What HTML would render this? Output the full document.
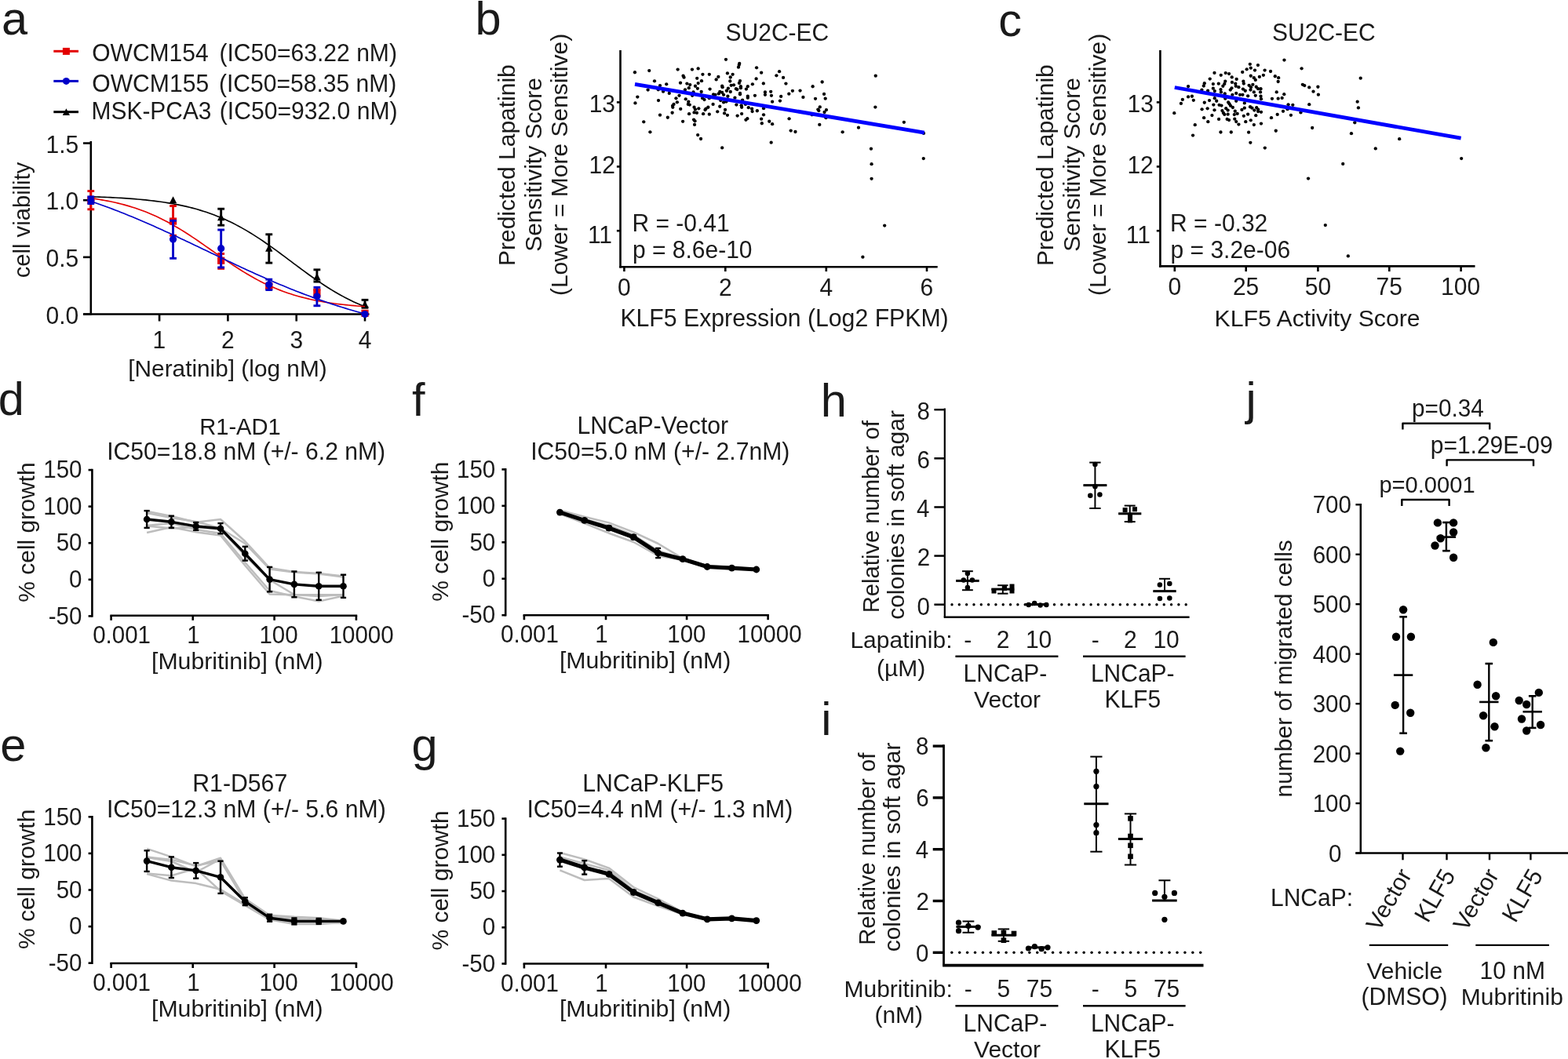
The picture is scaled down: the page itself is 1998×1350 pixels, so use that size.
<!DOCTYPE html>
<html><head><meta charset="utf-8"><title>Figure</title>
<style>html,body{margin:0;padding:0;background:#fff;}svg{display:block;}
text{font-family:'Liberation Sans', Arial, Helvetica, sans-serif;}</style></head>
<body><svg width="1998" height="1350" viewBox="0 0 1998 1350">
<rect width="1998" height="1350" fill="#fff"/>
<text transform="translate(2.12 43.50) scale(1 0.985)" font-size="59.50" fill="#1a1a1a">a</text>
<text transform="translate(605.43 43.50) scale(1 0.985)" font-size="59.50" fill="#1a1a1a">b</text>
<text transform="translate(1272.32 46.40) scale(1 0.985)" font-size="59.50" fill="#1a1a1a">c</text>
<text transform="translate(-2.26 529.20) scale(1 0.985)" font-size="59.50" fill="#1a1a1a">d</text>
<text transform="translate(0.22 970.00) scale(1 0.985)" font-size="59.50" fill="#1a1a1a">e</text>
<text transform="translate(524.91 529.70) scale(1 0.985)" font-size="59.50" fill="#1a1a1a">f</text>
<text transform="translate(524.62 969.50) scale(1 0.985)" font-size="59.50" fill="#1a1a1a">g</text>
<text transform="translate(1045.63 530.50) scale(1 0.985)" font-size="59.50" fill="#1a1a1a">h</text>
<text transform="translate(1046.13 936.70) scale(1 0.985)" font-size="59.50" fill="#1a1a1a">i</text>
<text transform="translate(1587.49 529.00) scale(1 0.985)" font-size="59.50" fill="#1a1a1a">j</text>
<line x1="68.30" y1="65.30" x2="100.00" y2="65.30" stroke="#e30000" stroke-width="3.00"/>
<text transform="translate(117.25 78.40) scale(1 1.040)" font-size="30.02" fill="#1a1a1a">OWCM154</text>
<text transform="translate(279.39 78.40) scale(1 1.034)" font-size="30.09" fill="#1a1a1a">(IC50=63.22 nM)</text>
<line x1="68.30" y1="103.40" x2="100.00" y2="103.40" stroke="#0000c8" stroke-width="3.00"/>
<text transform="translate(117.24 116.50) scale(1 1.040)" font-size="30.12" fill="#1a1a1a">OWCM155</text>
<text transform="translate(278.90 116.50) scale(1 1.034)" font-size="30.07" fill="#1a1a1a">(IC50=58.35 nM)</text>
<line x1="68.30" y1="142.70" x2="100.00" y2="142.70" stroke="#000" stroke-width="3.00"/>
<text transform="translate(116.61 152.10) scale(1 1.040)" font-size="29.91" fill="#1a1a1a">MSK-PCA3</text>
<text transform="translate(279.79 152.10) scale(1 1.034)" font-size="30.13" fill="#1a1a1a">(IC50=932.0 nM)</text>
<rect x="79.90" y="60.90" width="9.00" height="9.00" fill="#e30000"/>
<circle cx="84.40" cy="103.40" r="4.50" fill="#0000c8"/>
<polygon points="84.40,138.37 79.80,147.11 89.00,147.11" fill="#000"/>
<line x1="115.80" y1="180.00" x2="115.80" y2="401.70" stroke="#000" stroke-width="2.60"/>
<line x1="106.00" y1="400.50" x2="470.50" y2="400.50" stroke="#000" stroke-width="2.60"/>
<line x1="106.00" y1="182.55" x2="115.80" y2="182.55" stroke="#000" stroke-width="2.60"/>
<text transform="translate(58.50 195.05) scale(1 1.040)" font-size="30.00" fill="#1a1a1a">1.5</text>
<line x1="106.00" y1="255.20" x2="115.80" y2="255.20" stroke="#000" stroke-width="2.60"/>
<text transform="translate(58.50 267.30) scale(1 1.040)" font-size="30.00" fill="#1a1a1a">1.0</text>
<line x1="106.00" y1="327.85" x2="115.80" y2="327.85" stroke="#000" stroke-width="2.60"/>
<text transform="translate(58.50 339.95) scale(1 1.040)" font-size="30.00" fill="#1a1a1a">0.5</text>
<line x1="106.00" y1="400.50" x2="115.80" y2="400.50" stroke="#000" stroke-width="2.60"/>
<text transform="translate(58.50 412.60) scale(1 1.040)" font-size="30.00" fill="#1a1a1a">0.0</text>
<line x1="203.10" y1="400.50" x2="203.10" y2="409.50" stroke="#000" stroke-width="2.60"/>
<text transform="translate(194.40 443.50) scale(1 1.040)" font-size="30.00" fill="#1a1a1a">1</text>
<line x1="290.40" y1="400.50" x2="290.40" y2="409.50" stroke="#000" stroke-width="2.60"/>
<text transform="translate(282.07 443.50) scale(1 1.040)" font-size="30.00" fill="#1a1a1a">2</text>
<line x1="377.70" y1="400.50" x2="377.70" y2="409.50" stroke="#000" stroke-width="2.60"/>
<text transform="translate(369.45 443.50) scale(1 1.040)" font-size="30.00" fill="#1a1a1a">3</text>
<line x1="465.00" y1="400.50" x2="465.00" y2="409.50" stroke="#000" stroke-width="2.60"/>
<text transform="translate(456.75 443.50) scale(1 1.040)" font-size="30.00" fill="#1a1a1a">4</text>
<text transform="translate(163.31 479.50) scale(1 0.993)" font-size="29.81" fill="#1a1a1a">[Neratinib] (log nM)</text>
<text transform="translate(37.50 354.31) rotate(-90) scale(1 0.985)" font-size="29.20" fill="#1a1a1a">cell viability</text>
<polyline points="115.80,250.72 119.29,250.83 122.78,250.95 126.28,251.08 129.77,251.21 133.26,251.36 136.75,251.51 140.24,251.67 143.74,251.84 147.23,252.03 150.72,252.22 154.21,252.42 157.70,252.64 161.20,252.87 164.69,253.12 168.18,253.38 171.67,253.66 175.16,253.95 178.66,254.26 182.15,254.59 185.64,254.94 189.13,255.31 192.62,255.70 196.12,256.12 199.61,256.56 203.10,257.03 206.59,257.52 210.08,258.04 213.58,258.59 217.07,259.17 220.56,259.79 224.05,260.44 227.54,261.12 231.04,261.84 234.53,262.60 238.02,263.41 241.51,264.25 245.00,265.14 248.50,266.07 251.99,267.06 255.48,268.09 258.97,269.17 262.46,270.30 265.96,271.49 269.45,272.74 272.94,274.04 276.43,275.40 279.92,276.81 283.42,278.29 286.91,279.83 290.40,281.44 293.89,283.10 297.38,284.83 300.88,286.62 304.37,288.47 307.86,290.38 311.35,292.36 314.84,294.40 318.34,296.49 321.83,298.65 325.32,300.85 328.81,303.12 332.30,305.43 335.80,307.79 339.29,310.20 342.78,312.64 346.27,315.13 349.76,317.64 353.26,320.19 356.75,322.76 360.24,325.35 363.73,327.96 367.22,330.57 370.72,333.19 374.21,335.81 377.70,338.43 381.19,341.03 384.68,343.62 388.18,346.19 391.67,348.73 395.16,351.25 398.65,353.73 402.14,356.17 405.64,358.58 409.13,360.93 412.62,363.24 416.11,365.50 419.60,367.71 423.10,369.86 426.59,371.95 430.08,373.98 433.57,375.95 437.06,377.86 440.56,379.71 444.05,381.49 447.54,383.22 451.03,384.88 454.52,386.47 458.02,388.01 461.51,389.48 465.00,390.90" fill="none" stroke="#000" stroke-width="1.65" stroke-linejoin="round"/>
<line x1="281.67" y1="287.17" x2="281.67" y2="266.24" stroke="#000" stroke-width="2.90"/>
<line x1="277.27" y1="287.17" x2="286.07" y2="287.17" stroke="#000" stroke-width="2.90"/>
<line x1="277.27" y1="266.24" x2="286.07" y2="266.24" stroke="#000" stroke-width="2.90"/>
<line x1="342.78" y1="335.12" x2="342.78" y2="298.79" stroke="#000" stroke-width="2.90"/>
<line x1="338.38" y1="335.12" x2="347.18" y2="335.12" stroke="#000" stroke-width="2.90"/>
<line x1="338.38" y1="298.79" x2="347.18" y2="298.79" stroke="#000" stroke-width="2.90"/>
<line x1="403.89" y1="359.09" x2="403.89" y2="343.83" stroke="#000" stroke-width="2.90"/>
<line x1="399.49" y1="359.09" x2="408.29" y2="359.09" stroke="#000" stroke-width="2.90"/>
<line x1="399.49" y1="343.83" x2="408.29" y2="343.83" stroke="#000" stroke-width="2.90"/>
<line x1="465.00" y1="392.22" x2="465.00" y2="382.34" stroke="#000" stroke-width="2.90"/>
<line x1="460.60" y1="392.22" x2="469.40" y2="392.22" stroke="#000" stroke-width="2.90"/>
<line x1="460.60" y1="382.34" x2="469.40" y2="382.34" stroke="#000" stroke-width="2.90"/>
<polygon points="115.80,246.63 111.10,255.56 120.50,255.56" fill="#000"/>
<polygon points="220.56,250.26 215.86,259.19 225.26,259.19" fill="#000"/>
<polygon points="281.67,272.21 276.97,281.14 286.37,281.14" fill="#000"/>
<polygon points="342.78,311.73 338.08,320.66 347.48,320.66" fill="#000"/>
<polygon points="403.89,348.20 399.19,357.13 408.59,357.13" fill="#000"/>
<polygon points="465.00,383.21 460.30,392.14 469.70,392.14" fill="#000"/>
<polyline points="115.80,252.66 119.29,253.15 122.78,253.68 126.28,254.23 129.77,254.82 133.26,255.44 136.75,256.10 140.24,256.79 143.74,257.53 147.23,258.31 150.72,259.13 154.21,259.99 157.70,260.91 161.20,261.87 164.69,262.88 168.18,263.94 171.67,265.06 175.16,266.23 178.66,267.46 182.15,268.75 185.64,270.09 189.13,271.50 192.62,272.96 196.12,274.49 199.61,276.08 203.10,277.73 206.59,279.45 210.08,281.22 213.58,283.06 217.07,284.96 220.56,286.92 224.05,288.93 227.54,291.00 231.04,293.12 234.53,295.30 238.02,297.52 241.51,299.78 245.00,302.09 248.50,304.43 251.99,306.80 255.48,309.20 258.97,311.62 262.46,314.06 265.96,316.51 269.45,318.97 272.94,321.43 276.43,323.88 279.92,326.33 283.42,328.76 286.91,331.18 290.40,333.57 293.89,335.93 297.38,338.26 300.88,340.55 304.37,342.79 307.86,345.00 311.35,347.15 314.84,349.26 318.34,351.30 321.83,353.30 325.32,355.23 328.81,357.11 332.30,358.92 335.80,360.68 339.29,362.37 342.78,364.00 346.27,365.56 349.76,367.07 353.26,368.51 356.75,369.89 360.24,371.22 363.73,372.48 367.22,373.69 370.72,374.84 374.21,375.94 377.70,376.98 381.19,377.97 384.68,378.91 388.18,379.81 391.67,380.66 395.16,381.46 398.65,382.22 402.14,382.94 405.64,383.63 409.13,384.27 412.62,384.88 416.11,385.45 419.60,386.00 423.10,386.51 426.59,386.99 430.08,387.45 433.57,387.88 437.06,388.28 440.56,388.66 444.05,389.02 447.54,389.35 451.03,389.67 454.52,389.97 458.02,390.25 461.51,390.51 465.00,390.76" fill="none" stroke="#e30000" stroke-width="1.65" stroke-linejoin="round"/>
<line x1="115.80" y1="266.82" x2="115.80" y2="243.58" stroke="#e30000" stroke-width="2.90"/>
<line x1="111.40" y1="266.82" x2="120.20" y2="266.82" stroke="#e30000" stroke-width="2.90"/>
<line x1="111.40" y1="243.58" x2="120.20" y2="243.58" stroke="#e30000" stroke-width="2.90"/>
<line x1="220.56" y1="300.24" x2="220.56" y2="262.47" stroke="#e30000" stroke-width="2.90"/>
<line x1="216.16" y1="300.24" x2="224.96" y2="300.24" stroke="#e30000" stroke-width="2.90"/>
<line x1="216.16" y1="262.47" x2="224.96" y2="262.47" stroke="#e30000" stroke-width="2.90"/>
<line x1="281.67" y1="342.38" x2="281.67" y2="323.49" stroke="#e30000" stroke-width="2.90"/>
<line x1="277.27" y1="342.38" x2="286.07" y2="342.38" stroke="#e30000" stroke-width="2.90"/>
<line x1="277.27" y1="323.49" x2="286.07" y2="323.49" stroke="#e30000" stroke-width="2.90"/>
<line x1="342.78" y1="367.81" x2="342.78" y2="362.00" stroke="#e30000" stroke-width="2.90"/>
<line x1="338.38" y1="367.81" x2="347.18" y2="367.81" stroke="#e30000" stroke-width="2.90"/>
<line x1="338.38" y1="362.00" x2="347.18" y2="362.00" stroke="#e30000" stroke-width="2.90"/>
<line x1="403.89" y1="377.98" x2="403.89" y2="369.26" stroke="#e30000" stroke-width="2.90"/>
<line x1="399.49" y1="377.98" x2="408.29" y2="377.98" stroke="#e30000" stroke-width="2.90"/>
<line x1="399.49" y1="369.26" x2="408.29" y2="369.26" stroke="#e30000" stroke-width="2.90"/>
<rect x="111.20" y="250.60" width="9.20" height="9.20" fill="#e30000"/>
<rect x="215.96" y="277.48" width="9.20" height="9.20" fill="#e30000"/>
<rect x="277.07" y="327.61" width="9.20" height="9.20" fill="#e30000"/>
<rect x="338.18" y="360.30" width="9.20" height="9.20" fill="#e30000"/>
<rect x="399.29" y="368.29" width="9.20" height="9.20" fill="#e30000"/>
<rect x="460.40" y="394.74" width="9.20" height="9.20" fill="#e30000"/>
<polyline points="115.80,256.51 119.29,257.71 122.78,258.93 126.28,260.17 129.77,261.43 133.26,262.70 136.75,263.99 140.24,265.30 143.74,266.62 147.23,267.96 150.72,269.32 154.21,270.70 157.70,272.09 161.20,273.49 164.69,274.92 168.18,276.35 171.67,277.80 175.16,279.27 178.66,280.75 182.15,282.25 185.64,283.76 189.13,285.28 192.62,286.81 196.12,288.36 199.61,289.91 203.10,291.48 206.59,293.06 210.08,294.65 213.58,296.25 217.07,297.86 220.56,299.48 224.05,301.10 227.54,302.74 231.04,304.38 234.53,306.02 238.02,307.67 241.51,309.33 245.00,310.99 248.50,312.65 251.99,314.32 255.48,315.99 258.97,317.66 262.46,319.34 265.96,321.01 269.45,322.68 272.94,324.36 276.43,326.03 279.92,327.69 283.42,329.36 286.91,331.02 290.40,332.68 293.89,334.34 297.38,335.98 300.88,337.63 304.37,339.26 307.86,340.89 311.35,342.51 314.84,344.13 318.34,345.73 321.83,347.33 325.32,348.91 328.81,350.49 332.30,352.05 335.80,353.60 339.29,355.14 342.78,356.67 346.27,358.18 349.76,359.69 353.26,361.17 356.75,362.65 360.24,364.11 363.73,365.55 367.22,366.98 370.72,368.40 374.21,369.80 377.70,371.18 381.19,372.54 384.68,373.89 388.18,375.23 391.67,376.54 395.16,377.84 398.65,379.13 402.14,380.39 405.64,381.64 409.13,382.87 412.62,384.08 416.11,385.27 419.60,386.45 423.10,387.61 426.59,388.75 430.08,389.87 433.57,390.97 437.06,392.06 440.56,393.13 444.05,394.18 447.54,395.21 451.03,396.22 454.52,397.22 458.02,398.20 461.51,399.16 465.00,400.10" fill="none" stroke="#0000c8" stroke-width="1.65" stroke-linejoin="round"/>
<line x1="115.80" y1="259.56" x2="115.80" y2="250.84" stroke="#0000c8" stroke-width="2.90"/>
<line x1="111.40" y1="259.56" x2="120.20" y2="259.56" stroke="#0000c8" stroke-width="2.90"/>
<line x1="111.40" y1="250.84" x2="120.20" y2="250.84" stroke="#0000c8" stroke-width="2.90"/>
<line x1="220.56" y1="329.30" x2="220.56" y2="281.35" stroke="#0000c8" stroke-width="2.90"/>
<line x1="216.16" y1="329.30" x2="224.96" y2="329.30" stroke="#0000c8" stroke-width="2.90"/>
<line x1="216.16" y1="281.35" x2="224.96" y2="281.35" stroke="#0000c8" stroke-width="2.90"/>
<line x1="281.67" y1="340.93" x2="281.67" y2="292.98" stroke="#0000c8" stroke-width="2.90"/>
<line x1="277.27" y1="340.93" x2="286.07" y2="340.93" stroke="#0000c8" stroke-width="2.90"/>
<line x1="277.27" y1="292.98" x2="286.07" y2="292.98" stroke="#0000c8" stroke-width="2.90"/>
<line x1="342.78" y1="369.55" x2="342.78" y2="356.18" stroke="#0000c8" stroke-width="2.90"/>
<line x1="338.38" y1="369.55" x2="347.18" y2="369.55" stroke="#0000c8" stroke-width="2.90"/>
<line x1="338.38" y1="356.18" x2="347.18" y2="356.18" stroke="#0000c8" stroke-width="2.90"/>
<line x1="403.89" y1="389.75" x2="403.89" y2="366.35" stroke="#0000c8" stroke-width="2.90"/>
<line x1="399.49" y1="389.75" x2="408.29" y2="389.75" stroke="#0000c8" stroke-width="2.90"/>
<line x1="399.49" y1="366.35" x2="408.29" y2="366.35" stroke="#0000c8" stroke-width="2.90"/>
<circle cx="115.80" cy="255.20" r="4.60" fill="#0000c8"/>
<circle cx="220.56" cy="305.04" r="4.60" fill="#0000c8"/>
<circle cx="281.67" cy="316.66" r="4.60" fill="#0000c8"/>
<circle cx="342.78" cy="362.87" r="4.60" fill="#0000c8"/>
<circle cx="403.89" cy="377.83" r="4.60" fill="#0000c8"/>
<circle cx="465.00" cy="400.50" r="4.60" fill="#0000c8"/>
<text transform="translate(656.00 339.00) rotate(-90) scale(1 0.991)" font-size="30.00" fill="#1a1a1a">Predicted Lapatinib</text>
<text transform="translate(690.30 320.85) rotate(-90) scale(1 0.992)" font-size="30.00" fill="#1a1a1a">Sensitivity Score</text>
<text transform="translate(723.00 377.10) rotate(-90) scale(1 0.994)" font-size="30.00" fill="#1a1a1a">(Lower = More Sensitive)</text>
<text transform="translate(924.58 51.70) scale(1 1.040)" font-size="30.00" fill="#1a1a1a">SU2C-EC</text>
<circle cx="808.96" cy="92.25" r="2.15" fill="#000"/>
<circle cx="827.25" cy="90.03" r="2.15" fill="#000"/>
<circle cx="863.65" cy="88.59" r="2.15" fill="#000"/>
<circle cx="881.94" cy="88.59" r="2.15" fill="#000"/>
<circle cx="889.65" cy="87.43" r="2.15" fill="#000"/>
<circle cx="924.98" cy="75.78" r="2.15" fill="#000"/>
<circle cx="926.91" cy="93.40" r="2.15" fill="#000"/>
<circle cx="933.65" cy="94.85" r="2.15" fill="#000"/>
<circle cx="930.76" cy="98.51" r="2.15" fill="#000"/>
<circle cx="895.42" cy="94.85" r="2.15" fill="#000"/>
<circle cx="903.80" cy="94.85" r="2.15" fill="#000"/>
<circle cx="915.35" cy="97.93" r="2.15" fill="#000"/>
<circle cx="912.66" cy="101.40" r="2.15" fill="#000"/>
<circle cx="888.20" cy="99.85" r="2.15" fill="#000"/>
<circle cx="893.98" cy="103.22" r="2.15" fill="#000"/>
<circle cx="870.58" cy="96.77" r="2.15" fill="#000"/>
<circle cx="871.55" cy="98.70" r="2.15" fill="#000"/>
<circle cx="833.99" cy="103.32" r="2.15" fill="#000"/>
<circle cx="867.02" cy="105.63" r="2.15" fill="#000"/>
<circle cx="889.65" cy="106.11" r="2.15" fill="#000"/>
<circle cx="875.40" cy="106.59" r="2.15" fill="#000"/>
<circle cx="879.25" cy="108.04" r="2.15" fill="#000"/>
<circle cx="877.80" cy="112.18" r="2.15" fill="#000"/>
<circle cx="885.99" cy="109.77" r="2.15" fill="#000"/>
<circle cx="888.88" cy="112.85" r="2.15" fill="#000"/>
<circle cx="849.21" cy="107.36" r="2.15" fill="#000"/>
<circle cx="841.02" cy="109.10" r="2.15" fill="#000"/>
<circle cx="838.81" cy="114.30" r="2.15" fill="#000"/>
<circle cx="825.62" cy="114.59" r="2.15" fill="#000"/>
<circle cx="845.07" cy="116.70" r="2.15" fill="#000"/>
<circle cx="852.77" cy="118.92" r="2.15" fill="#000"/>
<circle cx="872.99" cy="114.30" r="2.15" fill="#000"/>
<circle cx="883.58" cy="117.47" r="2.15" fill="#000"/>
<circle cx="882.14" cy="121.81" r="2.15" fill="#000"/>
<circle cx="893.69" cy="116.99" r="2.15" fill="#000"/>
<circle cx="904.57" cy="113.62" r="2.15" fill="#000"/>
<circle cx="920.17" cy="109.77" r="2.15" fill="#000"/>
<circle cx="920.65" cy="111.22" r="2.15" fill="#000"/>
<circle cx="927.87" cy="112.66" r="2.15" fill="#000"/>
<circle cx="925.95" cy="115.74" r="2.15" fill="#000"/>
<circle cx="930.76" cy="116.99" r="2.15" fill="#000"/>
<circle cx="931.72" cy="108.81" r="2.15" fill="#000"/>
<circle cx="930.28" cy="103.51" r="2.15" fill="#000"/>
<circle cx="917.28" cy="116.99" r="2.15" fill="#000"/>
<circle cx="915.84" cy="119.40" r="2.15" fill="#000"/>
<circle cx="920.17" cy="117.96" r="2.15" fill="#000"/>
<circle cx="922.09" cy="120.84" r="2.15" fill="#000"/>
<circle cx="909.10" cy="120.36" r="2.15" fill="#000"/>
<circle cx="911.50" cy="120.84" r="2.15" fill="#000"/>
<circle cx="927.39" cy="122.77" r="2.15" fill="#000"/>
<circle cx="812.33" cy="123.54" r="2.15" fill="#000"/>
<circle cx="809.44" cy="131.44" r="2.15" fill="#000"/>
<circle cx="839.00" cy="128.07" r="2.15" fill="#000"/>
<circle cx="861.44" cy="125.37" r="2.15" fill="#000"/>
<circle cx="865.48" cy="121.81" r="2.15" fill="#000"/>
<circle cx="862.88" cy="130.28" r="2.15" fill="#000"/>
<circle cx="858.55" cy="132.88" r="2.15" fill="#000"/>
<circle cx="857.10" cy="134.81" r="2.15" fill="#000"/>
<circle cx="857.30" cy="136.73" r="2.15" fill="#000"/>
<circle cx="873.76" cy="126.33" r="2.15" fill="#000"/>
<circle cx="877.32" cy="129.70" r="2.15" fill="#000"/>
<circle cx="876.84" cy="132.88" r="2.15" fill="#000"/>
<circle cx="878.77" cy="133.55" r="2.15" fill="#000"/>
<circle cx="895.13" cy="125.18" r="2.15" fill="#000"/>
<circle cx="897.54" cy="127.10" r="2.15" fill="#000"/>
<circle cx="903.80" cy="125.18" r="2.15" fill="#000"/>
<circle cx="908.61" cy="132.88" r="2.15" fill="#000"/>
<circle cx="917.28" cy="135.77" r="2.15" fill="#000"/>
<circle cx="918.24" cy="128.07" r="2.15" fill="#000"/>
<circle cx="922.09" cy="130.47" r="2.15" fill="#000"/>
<circle cx="925.46" cy="129.51" r="2.15" fill="#000"/>
<circle cx="884.54" cy="136.73" r="2.15" fill="#000"/>
<circle cx="890.32" cy="138.37" r="2.15" fill="#000"/>
<circle cx="885.99" cy="139.62" r="2.15" fill="#000"/>
<circle cx="884.54" cy="143.47" r="2.15" fill="#000"/>
<circle cx="887.91" cy="143.95" r="2.15" fill="#000"/>
<circle cx="867.21" cy="138.95" r="2.15" fill="#000"/>
<circle cx="856.62" cy="143.76" r="2.15" fill="#000"/>
<circle cx="841.02" cy="146.65" r="2.15" fill="#000"/>
<circle cx="850.84" cy="149.73" r="2.15" fill="#000"/>
<circle cx="899.47" cy="138.66" r="2.15" fill="#000"/>
<circle cx="902.36" cy="136.73" r="2.15" fill="#000"/>
<circle cx="898.50" cy="140.10" r="2.15" fill="#000"/>
<circle cx="896.10" cy="145.20" r="2.15" fill="#000"/>
<circle cx="903.80" cy="145.69" r="2.15" fill="#000"/>
<circle cx="914.20" cy="142.32" r="2.15" fill="#000"/>
<circle cx="924.02" cy="139.91" r="2.15" fill="#000"/>
<circle cx="923.06" cy="144.43" r="2.15" fill="#000"/>
<circle cx="926.91" cy="146.84" r="2.15" fill="#000"/>
<circle cx="878.09" cy="145.20" r="2.15" fill="#000"/>
<circle cx="820.23" cy="155.31" r="2.15" fill="#000"/>
<circle cx="870.10" cy="154.83" r="2.15" fill="#000"/>
<circle cx="884.06" cy="152.62" r="2.15" fill="#000"/>
<circle cx="885.51" cy="154.35" r="2.15" fill="#000"/>
<circle cx="885.03" cy="158.88" r="2.15" fill="#000"/>
<circle cx="828.41" cy="168.31" r="2.15" fill="#000"/>
<circle cx="889.17" cy="172.07" r="2.15" fill="#000"/>
<circle cx="893.02" cy="176.98" r="2.15" fill="#000"/>
<circle cx="920.17" cy="188.44" r="2.15" fill="#000"/>
<circle cx="942.22" cy="80.89" r="2.15" fill="#000"/>
<circle cx="941.74" cy="82.81" r="2.15" fill="#000"/>
<circle cx="940.97" cy="85.70" r="2.15" fill="#000"/>
<circle cx="964.08" cy="86.37" r="2.15" fill="#000"/>
<circle cx="970.14" cy="92.63" r="2.15" fill="#000"/>
<circle cx="993.06" cy="91.19" r="2.15" fill="#000"/>
<circle cx="989.40" cy="96.29" r="2.15" fill="#000"/>
<circle cx="998.07" cy="98.89" r="2.15" fill="#000"/>
<circle cx="1001.44" cy="106.59" r="2.15" fill="#000"/>
<circle cx="963.60" cy="100.43" r="2.15" fill="#000"/>
<circle cx="972.84" cy="106.40" r="2.15" fill="#000"/>
<circle cx="942.99" cy="103.03" r="2.15" fill="#000"/>
<circle cx="941.93" cy="105.92" r="2.15" fill="#000"/>
<circle cx="935.00" cy="108.33" r="2.15" fill="#000"/>
<circle cx="943.86" cy="110.25" r="2.15" fill="#000"/>
<circle cx="943.86" cy="112.18" r="2.15" fill="#000"/>
<circle cx="937.89" cy="113.14" r="2.15" fill="#000"/>
<circle cx="939.33" cy="114.10" r="2.15" fill="#000"/>
<circle cx="952.81" cy="110.25" r="2.15" fill="#000"/>
<circle cx="950.89" cy="113.62" r="2.15" fill="#000"/>
<circle cx="958.88" cy="107.36" r="2.15" fill="#000"/>
<circle cx="974.96" cy="117.47" r="2.15" fill="#000"/>
<circle cx="974.96" cy="120.84" r="2.15" fill="#000"/>
<circle cx="982.18" cy="116.80" r="2.15" fill="#000"/>
<circle cx="982.95" cy="121.81" r="2.15" fill="#000"/>
<circle cx="961.96" cy="121.81" r="2.15" fill="#000"/>
<circle cx="952.81" cy="122.77" r="2.15" fill="#000"/>
<circle cx="952.81" cy="124.70" r="2.15" fill="#000"/>
<circle cx="942.99" cy="118.92" r="2.15" fill="#000"/>
<circle cx="942.99" cy="120.36" r="2.15" fill="#000"/>
<circle cx="936.44" cy="124.70" r="2.15" fill="#000"/>
<circle cx="946.07" cy="127.58" r="2.15" fill="#000"/>
<circle cx="938.37" cy="133.55" r="2.15" fill="#000"/>
<circle cx="944.63" cy="134.32" r="2.15" fill="#000"/>
<circle cx="945.11" cy="136.73" r="2.15" fill="#000"/>
<circle cx="949.92" cy="132.88" r="2.15" fill="#000"/>
<circle cx="953.78" cy="137.21" r="2.15" fill="#000"/>
<circle cx="958.11" cy="138.66" r="2.15" fill="#000"/>
<circle cx="958.59" cy="142.03" r="2.15" fill="#000"/>
<circle cx="964.85" cy="141.26" r="2.15" fill="#000"/>
<circle cx="973.03" cy="138.18" r="2.15" fill="#000"/>
<circle cx="984.10" cy="129.70" r="2.15" fill="#000"/>
<circle cx="993.93" cy="128.55" r="2.15" fill="#000"/>
<circle cx="995.18" cy="122.96" r="2.15" fill="#000"/>
<circle cx="1005.29" cy="119.69" r="2.15" fill="#000"/>
<circle cx="1009.91" cy="115.84" r="2.15" fill="#000"/>
<circle cx="1019.54" cy="115.55" r="2.15" fill="#000"/>
<circle cx="1023.39" cy="123.93" r="2.15" fill="#000"/>
<circle cx="1035.62" cy="110.25" r="2.15" fill="#000"/>
<circle cx="1047.65" cy="104.48" r="2.15" fill="#000"/>
<circle cx="1050.06" cy="119.88" r="2.15" fill="#000"/>
<circle cx="1051.70" cy="125.66" r="2.15" fill="#000"/>
<circle cx="1038.99" cy="125.85" r="2.15" fill="#000"/>
<circle cx="1044.76" cy="136.44" r="2.15" fill="#000"/>
<circle cx="1042.36" cy="139.62" r="2.15" fill="#000"/>
<circle cx="1043.32" cy="141.06" r="2.15" fill="#000"/>
<circle cx="1052.95" cy="140.10" r="2.15" fill="#000"/>
<circle cx="1050.54" cy="142.99" r="2.15" fill="#000"/>
<circle cx="1052.47" cy="150.21" r="2.15" fill="#000"/>
<circle cx="1034.65" cy="146.36" r="2.15" fill="#000"/>
<circle cx="1005.58" cy="151.37" r="2.15" fill="#000"/>
<circle cx="1044.28" cy="158.88" r="2.15" fill="#000"/>
<circle cx="1073.65" cy="168.31" r="2.15" fill="#000"/>
<circle cx="1007.69" cy="166.58" r="2.15" fill="#000"/>
<circle cx="1013.47" cy="168.02" r="2.15" fill="#000"/>
<circle cx="982.66" cy="181.70" r="2.15" fill="#000"/>
<circle cx="939.62" cy="147.61" r="2.15" fill="#000"/>
<circle cx="945.11" cy="145.11" r="2.15" fill="#000"/>
<circle cx="952.33" cy="151.17" r="2.15" fill="#000"/>
<circle cx="950.41" cy="152.81" r="2.15" fill="#000"/>
<circle cx="973.03" cy="146.36" r="2.15" fill="#000"/>
<circle cx="970.14" cy="151.66" r="2.15" fill="#000"/>
<circle cx="970.82" cy="157.24" r="2.15" fill="#000"/>
<circle cx="980.25" cy="154.74" r="2.15" fill="#000"/>
<circle cx="984.10" cy="158.20" r="2.15" fill="#000"/>
<circle cx="1093.98" cy="162.70" r="2.15" fill="#000"/>
<circle cx="1115.77" cy="96.72" r="2.15" fill="#000"/>
<circle cx="1115.35" cy="136.56" r="2.15" fill="#000"/>
<circle cx="1151.87" cy="155.85" r="2.15" fill="#000"/>
<circle cx="1176.97" cy="169.96" r="2.15" fill="#000"/>
<circle cx="1176.76" cy="202.12" r="2.15" fill="#000"/>
<circle cx="1109.96" cy="189.67" r="2.15" fill="#000"/>
<circle cx="1110.58" cy="209.17" r="2.15" fill="#000"/>
<circle cx="1110.58" cy="227.84" r="2.15" fill="#000"/>
<circle cx="1127.18" cy="287.59" r="2.15" fill="#000"/>
<circle cx="1099.38" cy="327.63" r="2.15" fill="#000"/>
<line x1="809.00" y1="107.30" x2="1177.80" y2="169.10" stroke="#0000ff" stroke-width="4.80"/>
<line x1="790.50" y1="64.00" x2="790.50" y2="341.50" stroke="#000" stroke-width="2.60"/>
<line x1="789.20" y1="340.20" x2="1194.70" y2="340.20" stroke="#000" stroke-width="2.60"/>
<line x1="785.90" y1="130.40" x2="790.50" y2="130.40" stroke="#000" stroke-width="2.60"/>
<text transform="translate(750.65 142.80) scale(1 1.040)" font-size="30.00" fill="#1a1a1a">13</text>
<line x1="785.90" y1="212.40" x2="790.50" y2="212.40" stroke="#000" stroke-width="2.60"/>
<text transform="translate(750.48 220.70) scale(1 1.040)" font-size="30.00" fill="#1a1a1a">12</text>
<line x1="785.90" y1="294.20" x2="790.50" y2="294.20" stroke="#000" stroke-width="2.60"/>
<text transform="translate(748.90 309.80) scale(1 1.040)" font-size="30.00" fill="#1a1a1a">11</text>
<line x1="795.40" y1="340.20" x2="795.40" y2="346.10" stroke="#000" stroke-width="2.60"/>
<text transform="translate(787.07 377.20) scale(1 1.040)" font-size="30.00" fill="#1a1a1a">0</text>
<line x1="924.30" y1="340.20" x2="924.30" y2="346.10" stroke="#000" stroke-width="2.60"/>
<text transform="translate(915.97 377.20) scale(1 1.040)" font-size="30.00" fill="#1a1a1a">2</text>
<line x1="1052.80" y1="340.20" x2="1052.80" y2="346.10" stroke="#000" stroke-width="2.60"/>
<text transform="translate(1044.55 377.20) scale(1 1.040)" font-size="30.00" fill="#1a1a1a">4</text>
<line x1="1181.00" y1="340.20" x2="1181.00" y2="346.10" stroke="#000" stroke-width="2.60"/>
<text transform="translate(1172.60 377.20) scale(1 1.040)" font-size="30.00" fill="#1a1a1a">6</text>
<text transform="translate(790.38 415.50) scale(1 1.012)" font-size="30.23" fill="#1a1a1a">KLF5 Expression (Log2 FPKM)</text>
<text transform="translate(805.50 295.20) scale(1 1.040)" font-size="30.00" fill="#1a1a1a">R = -0.41</text>
<text transform="translate(805.95 328.80) scale(1 1.022)" font-size="30.00" fill="#1a1a1a">p = 8.6e-10</text>
<text transform="translate(1341.90 339.00) rotate(-90) scale(1 0.991)" font-size="30.00" fill="#1a1a1a">Predicted Lapatinib</text>
<text transform="translate(1376.20 320.85) rotate(-90) scale(1 0.992)" font-size="30.00" fill="#1a1a1a">Sensitivity Score</text>
<text transform="translate(1408.90 377.10) rotate(-90) scale(1 0.994)" font-size="30.00" fill="#1a1a1a">(Lower = More Sensitive)</text>
<text transform="translate(1621.08 51.70) scale(1 1.040)" font-size="30.00" fill="#1a1a1a">SU2C-EC</text>
<circle cx="1592.83" cy="81.85" r="2.15" fill="#000"/>
<circle cx="1602.94" cy="83.10" r="2.15" fill="#000"/>
<circle cx="1588.69" cy="88.30" r="2.15" fill="#000"/>
<circle cx="1593.79" cy="86.66" r="2.15" fill="#000"/>
<circle cx="1598.99" cy="89.55" r="2.15" fill="#000"/>
<circle cx="1611.61" cy="89.55" r="2.15" fill="#000"/>
<circle cx="1619.02" cy="91.00" r="2.15" fill="#000"/>
<circle cx="1583.20" cy="91.96" r="2.15" fill="#000"/>
<circle cx="1547.48" cy="92.92" r="2.15" fill="#000"/>
<circle cx="1561.73" cy="93.11" r="2.15" fill="#000"/>
<circle cx="1566.06" cy="94.08" r="2.15" fill="#000"/>
<circle cx="1555.76" cy="95.81" r="2.15" fill="#000"/>
<circle cx="1569.72" cy="98.41" r="2.15" fill="#000"/>
<circle cx="1575.69" cy="100.91" r="2.15" fill="#000"/>
<circle cx="1593.79" cy="96.77" r="2.15" fill="#000"/>
<circle cx="1597.84" cy="99.18" r="2.15" fill="#000"/>
<circle cx="1599.76" cy="101.88" r="2.15" fill="#000"/>
<circle cx="1604.87" cy="97.93" r="2.15" fill="#000"/>
<circle cx="1609.87" cy="95.81" r="2.15" fill="#000"/>
<circle cx="1624.80" cy="97.25" r="2.15" fill="#000"/>
<circle cx="1629.13" cy="99.18" r="2.15" fill="#000"/>
<circle cx="1628.65" cy="103.99" r="2.15" fill="#000"/>
<circle cx="1541.70" cy="100.62" r="2.15" fill="#000"/>
<circle cx="1584.36" cy="103.71" r="2.15" fill="#000"/>
<circle cx="1584.84" cy="106.59" r="2.15" fill="#000"/>
<circle cx="1534.77" cy="106.21" r="2.15" fill="#000"/>
<circle cx="1533.81" cy="109.48" r="2.15" fill="#000"/>
<circle cx="1545.84" cy="107.08" r="2.15" fill="#000"/>
<circle cx="1552.78" cy="106.69" r="2.15" fill="#000"/>
<circle cx="1561.25" cy="103.71" r="2.15" fill="#000"/>
<circle cx="1560.29" cy="106.88" r="2.15" fill="#000"/>
<circle cx="1558.36" cy="109.77" r="2.15" fill="#000"/>
<circle cx="1569.92" cy="104.96" r="2.15" fill="#000"/>
<circle cx="1574.25" cy="106.59" r="2.15" fill="#000"/>
<circle cx="1574.73" cy="109.77" r="2.15" fill="#000"/>
<circle cx="1578.39" cy="111.22" r="2.15" fill="#000"/>
<circle cx="1514.07" cy="110.06" r="2.15" fill="#000"/>
<circle cx="1569.43" cy="112.37" r="2.15" fill="#000"/>
<circle cx="1567.80" cy="114.59" r="2.15" fill="#000"/>
<circle cx="1583.88" cy="113.62" r="2.15" fill="#000"/>
<circle cx="1586.76" cy="115.74" r="2.15" fill="#000"/>
<circle cx="1591.58" cy="108.81" r="2.15" fill="#000"/>
<circle cx="1596.39" cy="107.85" r="2.15" fill="#000"/>
<circle cx="1593.99" cy="111.22" r="2.15" fill="#000"/>
<circle cx="1593.50" cy="114.59" r="2.15" fill="#000"/>
<circle cx="1600.73" cy="110.73" r="2.15" fill="#000"/>
<circle cx="1603.13" cy="113.14" r="2.15" fill="#000"/>
<circle cx="1606.50" cy="113.14" r="2.15" fill="#000"/>
<circle cx="1606.02" cy="117.47" r="2.15" fill="#000"/>
<circle cx="1597.84" cy="117.47" r="2.15" fill="#000"/>
<circle cx="1599.76" cy="121.81" r="2.15" fill="#000"/>
<circle cx="1606.50" cy="122.77" r="2.15" fill="#000"/>
<circle cx="1606.98" cy="126.14" r="2.15" fill="#000"/>
<circle cx="1626.72" cy="117.47" r="2.15" fill="#000"/>
<circle cx="1628.65" cy="125.66" r="2.15" fill="#000"/>
<circle cx="1620.95" cy="125.85" r="2.15" fill="#000"/>
<circle cx="1590.13" cy="122.29" r="2.15" fill="#000"/>
<circle cx="1583.39" cy="120.84" r="2.15" fill="#000"/>
<circle cx="1575.21" cy="118.92" r="2.15" fill="#000"/>
<circle cx="1580.03" cy="120.84" r="2.15" fill="#000"/>
<circle cx="1570.40" cy="120.84" r="2.15" fill="#000"/>
<circle cx="1560.77" cy="119.40" r="2.15" fill="#000"/>
<circle cx="1555.47" cy="114.10" r="2.15" fill="#000"/>
<circle cx="1555.95" cy="117.47" r="2.15" fill="#000"/>
<circle cx="1545.84" cy="112.66" r="2.15" fill="#000"/>
<circle cx="1547.77" cy="116.03" r="2.15" fill="#000"/>
<circle cx="1539.10" cy="115.74" r="2.15" fill="#000"/>
<circle cx="1531.40" cy="114.59" r="2.15" fill="#000"/>
<circle cx="1514.07" cy="123.44" r="2.15" fill="#000"/>
<circle cx="1518.89" cy="122.77" r="2.15" fill="#000"/>
<circle cx="1520.81" cy="127.78" r="2.15" fill="#000"/>
<circle cx="1506.85" cy="126.91" r="2.15" fill="#000"/>
<circle cx="1504.92" cy="131.92" r="2.15" fill="#000"/>
<circle cx="1496.26" cy="144.15" r="2.15" fill="#000"/>
<circle cx="1534.77" cy="130.76" r="2.15" fill="#000"/>
<circle cx="1541.03" cy="128.07" r="2.15" fill="#000"/>
<circle cx="1547.77" cy="125.18" r="2.15" fill="#000"/>
<circle cx="1550.18" cy="128.74" r="2.15" fill="#000"/>
<circle cx="1561.25" cy="125.66" r="2.15" fill="#000"/>
<circle cx="1575.21" cy="128.74" r="2.15" fill="#000"/>
<circle cx="1585.80" cy="131.44" r="2.15" fill="#000"/>
<circle cx="1546.33" cy="133.55" r="2.15" fill="#000"/>
<circle cx="1553.55" cy="133.84" r="2.15" fill="#000"/>
<circle cx="1556.44" cy="134.61" r="2.15" fill="#000"/>
<circle cx="1565.10" cy="130.47" r="2.15" fill="#000"/>
<circle cx="1566.55" cy="132.40" r="2.15" fill="#000"/>
<circle cx="1567.99" cy="134.81" r="2.15" fill="#000"/>
<circle cx="1570.88" cy="137.02" r="2.15" fill="#000"/>
<circle cx="1562.21" cy="138.18" r="2.15" fill="#000"/>
<circle cx="1564.62" cy="140.58" r="2.15" fill="#000"/>
<circle cx="1557.40" cy="141.06" r="2.15" fill="#000"/>
<circle cx="1558.84" cy="143.95" r="2.15" fill="#000"/>
<circle cx="1560.29" cy="145.88" r="2.15" fill="#000"/>
<circle cx="1564.62" cy="145.69" r="2.15" fill="#000"/>
<circle cx="1573.77" cy="141.74" r="2.15" fill="#000"/>
<circle cx="1576.66" cy="144.92" r="2.15" fill="#000"/>
<circle cx="1572.80" cy="146.07" r="2.15" fill="#000"/>
<circle cx="1582.43" cy="139.91" r="2.15" fill="#000"/>
<circle cx="1585.80" cy="137.69" r="2.15" fill="#000"/>
<circle cx="1593.02" cy="136.25" r="2.15" fill="#000"/>
<circle cx="1595.43" cy="137.69" r="2.15" fill="#000"/>
<circle cx="1598.32" cy="140.58" r="2.15" fill="#000"/>
<circle cx="1601.21" cy="137.21" r="2.15" fill="#000"/>
<circle cx="1603.13" cy="139.62" r="2.15" fill="#000"/>
<circle cx="1603.13" cy="142.03" r="2.15" fill="#000"/>
<circle cx="1606.98" cy="142.80" r="2.15" fill="#000"/>
<circle cx="1590.13" cy="145.69" r="2.15" fill="#000"/>
<circle cx="1600.24" cy="147.13" r="2.15" fill="#000"/>
<circle cx="1584.84" cy="147.80" r="2.15" fill="#000"/>
<circle cx="1627.69" cy="145.88" r="2.15" fill="#000"/>
<circle cx="1619.98" cy="150.21" r="2.15" fill="#000"/>
<circle cx="1531.59" cy="139.33" r="2.15" fill="#000"/>
<circle cx="1538.62" cy="138.37" r="2.15" fill="#000"/>
<circle cx="1547.48" cy="140.29" r="2.15" fill="#000"/>
<circle cx="1544.40" cy="147.03" r="2.15" fill="#000"/>
<circle cx="1534.10" cy="150.21" r="2.15" fill="#000"/>
<circle cx="1553.07" cy="151.94" r="2.15" fill="#000"/>
<circle cx="1563.66" cy="151.94" r="2.15" fill="#000"/>
<circle cx="1566.06" cy="153.10" r="2.15" fill="#000"/>
<circle cx="1573.29" cy="151.66" r="2.15" fill="#000"/>
<circle cx="1575.21" cy="155.03" r="2.15" fill="#000"/>
<circle cx="1578.39" cy="158.59" r="2.15" fill="#000"/>
<circle cx="1587.25" cy="155.22" r="2.15" fill="#000"/>
<circle cx="1593.79" cy="153.29" r="2.15" fill="#000"/>
<circle cx="1597.84" cy="159.07" r="2.15" fill="#000"/>
<circle cx="1606.98" cy="157.62" r="2.15" fill="#000"/>
<circle cx="1539.30" cy="155.22" r="2.15" fill="#000"/>
<circle cx="1522.74" cy="159.17" r="2.15" fill="#000"/>
<circle cx="1520.04" cy="172.55" r="2.15" fill="#000"/>
<circle cx="1555.47" cy="168.50" r="2.15" fill="#000"/>
<circle cx="1568.76" cy="168.50" r="2.15" fill="#000"/>
<circle cx="1591.10" cy="168.70" r="2.15" fill="#000"/>
<circle cx="1625.76" cy="166.77" r="2.15" fill="#000"/>
<circle cx="1593.31" cy="181.79" r="2.15" fill="#000"/>
<circle cx="1611.80" cy="188.53" r="2.15" fill="#000"/>
<circle cx="1636.45" cy="76.55" r="2.15" fill="#000"/>
<circle cx="1658.60" cy="87.34" r="2.15" fill="#000"/>
<circle cx="1733.70" cy="99.66" r="2.15" fill="#000"/>
<circle cx="1659.85" cy="107.85" r="2.15" fill="#000"/>
<circle cx="1662.25" cy="109.10" r="2.15" fill="#000"/>
<circle cx="1668.22" cy="111.41" r="2.15" fill="#000"/>
<circle cx="1679.39" cy="110.73" r="2.15" fill="#000"/>
<circle cx="1673.52" cy="116.70" r="2.15" fill="#000"/>
<circle cx="1679.87" cy="120.65" r="2.15" fill="#000"/>
<circle cx="1636.26" cy="120.17" r="2.15" fill="#000"/>
<circle cx="1633.66" cy="124.89" r="2.15" fill="#000"/>
<circle cx="1729.65" cy="129.70" r="2.15" fill="#000"/>
<circle cx="1730.91" cy="137.41" r="2.15" fill="#000"/>
<circle cx="1641.55" cy="133.36" r="2.15" fill="#000"/>
<circle cx="1647.33" cy="133.84" r="2.15" fill="#000"/>
<circle cx="1668.22" cy="133.17" r="2.15" fill="#000"/>
<circle cx="1640.59" cy="139.14" r="2.15" fill="#000"/>
<circle cx="1635.01" cy="141.83" r="2.15" fill="#000"/>
<circle cx="1644.92" cy="146.84" r="2.15" fill="#000"/>
<circle cx="1657.44" cy="143.47" r="2.15" fill="#000"/>
<circle cx="1726.28" cy="156.28" r="2.15" fill="#000"/>
<circle cx="1672.17" cy="163.02" r="2.15" fill="#000"/>
<circle cx="1721.95" cy="170.14" r="2.15" fill="#000"/>
<circle cx="1752.76" cy="189.40" r="2.15" fill="#000"/>
<circle cx="1783.16" cy="177.16" r="2.15" fill="#000"/>
<circle cx="1862.17" cy="202.04" r="2.15" fill="#000"/>
<circle cx="1711.21" cy="208.89" r="2.15" fill="#000"/>
<circle cx="1667.04" cy="227.55" r="2.15" fill="#000"/>
<circle cx="1688.81" cy="287.06" r="2.15" fill="#000"/>
<circle cx="1717.84" cy="326.46" r="2.15" fill="#000"/>
<line x1="1496.80" y1="111.50" x2="1861.60" y2="176.20" stroke="#0000ff" stroke-width="4.80"/>
<line x1="1478.40" y1="64.00" x2="1478.40" y2="340.65" stroke="#000" stroke-width="2.60"/>
<line x1="1477.10" y1="339.35" x2="1879.50" y2="339.35" stroke="#000" stroke-width="2.60"/>
<line x1="1473.80" y1="130.40" x2="1478.40" y2="130.40" stroke="#000" stroke-width="2.60"/>
<text transform="translate(1436.55 142.80) scale(1 1.040)" font-size="30.00" fill="#1a1a1a">13</text>
<line x1="1473.80" y1="212.40" x2="1478.40" y2="212.40" stroke="#000" stroke-width="2.60"/>
<text transform="translate(1436.38 220.70) scale(1 1.040)" font-size="30.00" fill="#1a1a1a">12</text>
<line x1="1473.80" y1="294.20" x2="1478.40" y2="294.20" stroke="#000" stroke-width="2.60"/>
<text transform="translate(1434.80 309.80) scale(1 1.040)" font-size="30.00" fill="#1a1a1a">11</text>
<line x1="1496.80" y1="339.35" x2="1496.80" y2="346.10" stroke="#000" stroke-width="2.60"/>
<text transform="translate(1488.47 376.35) scale(1 1.040)" font-size="30.00" fill="#1a1a1a">0</text>
<line x1="1587.70" y1="339.35" x2="1587.70" y2="346.10" stroke="#000" stroke-width="2.60"/>
<text transform="translate(1570.90 376.35) scale(1 1.040)" font-size="30.00" fill="#1a1a1a">25</text>
<line x1="1679.40" y1="339.35" x2="1679.40" y2="346.10" stroke="#000" stroke-width="2.60"/>
<text transform="translate(1662.75 376.35) scale(1 1.040)" font-size="30.00" fill="#1a1a1a">50</text>
<line x1="1770.30" y1="339.35" x2="1770.30" y2="346.10" stroke="#000" stroke-width="2.60"/>
<text transform="translate(1753.50 376.35) scale(1 1.040)" font-size="30.00" fill="#1a1a1a">75</text>
<line x1="1861.60" y1="339.35" x2="1861.60" y2="346.10" stroke="#000" stroke-width="2.60"/>
<text transform="translate(1836.10 376.35) scale(1 1.040)" font-size="30.00" fill="#1a1a1a">100</text>
<text transform="translate(1547.58 415.50) scale(1 1.004)" font-size="30.23" fill="#1a1a1a">KLF5 Activity Score</text>
<text transform="translate(1491.10 295.20) scale(1 1.040)" font-size="30.00" fill="#1a1a1a">R = -0.32</text>
<text transform="translate(1491.55 328.80) scale(1 1.022)" font-size="30.00" fill="#1a1a1a">p = 3.2e-06</text>
<line x1="117.40" y1="597.80" x2="117.40" y2="786.70" stroke="#000" stroke-width="2.60"/>
<line x1="112.60" y1="599.10" x2="117.40" y2="599.10" stroke="#000" stroke-width="2.60"/>
<text transform="translate(55.26 609.30) scale(1 1.040)" font-size="29.50" fill="#1a1a1a">150</text>
<line x1="112.60" y1="645.67" x2="117.40" y2="645.67" stroke="#000" stroke-width="2.60"/>
<text transform="translate(55.26 655.88) scale(1 1.040)" font-size="29.50" fill="#1a1a1a">100</text>
<line x1="112.60" y1="692.25" x2="117.40" y2="692.25" stroke="#000" stroke-width="2.60"/>
<text transform="translate(71.64 702.45) scale(1 1.040)" font-size="29.50" fill="#1a1a1a">50</text>
<line x1="112.60" y1="738.83" x2="117.40" y2="738.83" stroke="#000" stroke-width="2.60"/>
<text transform="translate(88.01 749.03) scale(1 1.040)" font-size="29.50" fill="#1a1a1a">0</text>
<line x1="112.60" y1="785.40" x2="117.40" y2="785.40" stroke="#000" stroke-width="2.60"/>
<text transform="translate(61.75 795.60) scale(1 1.040)" font-size="29.50" fill="#1a1a1a">-50</text>
<line x1="140.30" y1="784.80" x2="455.20" y2="784.80" stroke="#000" stroke-width="2.60"/>
<line x1="141.60" y1="784.80" x2="141.60" y2="790.80" stroke="#000" stroke-width="2.60"/>
<text transform="translate(118.17 820.00) scale(1 1.040)" font-size="29.50" fill="#1a1a1a">0.001</text>
<line x1="245.70" y1="784.80" x2="245.70" y2="790.80" stroke="#000" stroke-width="2.60"/>
<text transform="translate(238.25 820.00) scale(1 1.040)" font-size="29.50" fill="#1a1a1a">1</text>
<line x1="349.60" y1="784.80" x2="349.60" y2="790.80" stroke="#000" stroke-width="2.60"/>
<text transform="translate(330.43 820.00) scale(1 1.040)" font-size="29.50" fill="#1a1a1a">100</text>
<line x1="453.90" y1="784.80" x2="453.90" y2="790.80" stroke="#000" stroke-width="2.60"/>
<text transform="translate(419.68 820.00) scale(1 1.040)" font-size="29.50" fill="#1a1a1a">10000</text>
<text transform="translate(192.98 852.60) scale(1 0.994)" font-size="30.27" fill="#1a1a1a">[Mubritinib] (nM)</text>
<text transform="translate(44.40 767.77) rotate(-90) scale(1 0.985)" font-size="30.00" fill="#1a1a1a">% cell growth</text>
<text transform="translate(254.17 553.70) scale(1 1.040)" font-size="29.14" fill="#1a1a1a">R1-AD1</text>
<text transform="translate(136.19 585.70) scale(1 1.032)" font-size="30.13" fill="#1a1a1a">IC50=18.8 nM (+/- 6.2 nM)</text>
<polyline points="187.10,651.70 218.40,658.00 249.70,665.70 281.00,662.00 312.30,690.00 343.60,724.00 374.90,729.00 406.20,731.00 437.50,734.40" fill="none" stroke="#bdbdbd" stroke-width="2.50" stroke-linejoin="round"/>
<polyline points="187.10,654.00 218.40,660.00 249.70,665.00 281.00,673.50 312.30,693.00 343.60,725.50 374.90,729.50 406.20,731.50 437.50,735.50" fill="none" stroke="#bdbdbd" stroke-width="2.50" stroke-linejoin="round"/>
<polyline points="187.10,670.60 218.40,673.40 249.70,672.00 281.00,674.80 312.30,708.50 343.60,739.30 374.90,758.00 406.20,760.00 437.50,758.00" fill="none" stroke="#bdbdbd" stroke-width="2.50" stroke-linejoin="round"/>
<polyline points="187.10,679.00 218.40,672.00 249.70,678.30 281.00,682.50 312.30,721.00 343.60,757.50 374.90,758.20 406.20,758.20 437.50,758.20" fill="none" stroke="#bdbdbd" stroke-width="2.50" stroke-linejoin="round"/>
<polyline points="187.10,670.00 218.40,667.00 249.70,675.00 281.00,680.00 312.30,717.00 343.60,753.00 374.90,760.30 406.20,766.60 437.50,759.60" fill="none" stroke="#bdbdbd" stroke-width="2.50" stroke-linejoin="round"/>
<line x1="187.10" y1="651.10" x2="187.10" y2="672.90" stroke="#000" stroke-width="2.40"/>
<line x1="183.50" y1="651.10" x2="190.70" y2="651.10" stroke="#000" stroke-width="2.40"/>
<line x1="183.50" y1="672.90" x2="190.70" y2="672.90" stroke="#000" stroke-width="2.40"/>
<line x1="218.40" y1="657.70" x2="218.40" y2="672.90" stroke="#000" stroke-width="2.40"/>
<line x1="214.80" y1="657.70" x2="222.00" y2="657.70" stroke="#000" stroke-width="2.40"/>
<line x1="214.80" y1="672.90" x2="222.00" y2="672.90" stroke="#000" stroke-width="2.40"/>
<line x1="249.70" y1="666.00" x2="249.70" y2="675.80" stroke="#000" stroke-width="2.40"/>
<line x1="246.10" y1="666.00" x2="253.30" y2="666.00" stroke="#000" stroke-width="2.40"/>
<line x1="246.10" y1="675.80" x2="253.30" y2="675.80" stroke="#000" stroke-width="2.40"/>
<line x1="281.00" y1="667.10" x2="281.00" y2="680.30" stroke="#000" stroke-width="2.40"/>
<line x1="277.40" y1="667.10" x2="284.60" y2="667.10" stroke="#000" stroke-width="2.40"/>
<line x1="277.40" y1="680.30" x2="284.60" y2="680.30" stroke="#000" stroke-width="2.40"/>
<line x1="312.30" y1="696.80" x2="312.30" y2="714.60" stroke="#000" stroke-width="2.40"/>
<line x1="308.70" y1="696.80" x2="315.90" y2="696.80" stroke="#000" stroke-width="2.40"/>
<line x1="308.70" y1="714.60" x2="315.90" y2="714.60" stroke="#000" stroke-width="2.40"/>
<line x1="343.60" y1="722.90" x2="343.60" y2="754.30" stroke="#000" stroke-width="2.40"/>
<line x1="340.00" y1="722.90" x2="347.20" y2="722.90" stroke="#000" stroke-width="2.40"/>
<line x1="340.00" y1="754.30" x2="347.20" y2="754.30" stroke="#000" stroke-width="2.40"/>
<line x1="374.90" y1="728.50" x2="374.90" y2="761.30" stroke="#000" stroke-width="2.40"/>
<line x1="371.30" y1="728.50" x2="378.50" y2="728.50" stroke="#000" stroke-width="2.40"/>
<line x1="371.30" y1="761.30" x2="378.50" y2="761.30" stroke="#000" stroke-width="2.40"/>
<line x1="406.20" y1="729.80" x2="406.20" y2="764.80" stroke="#000" stroke-width="2.40"/>
<line x1="402.60" y1="729.80" x2="409.80" y2="729.80" stroke="#000" stroke-width="2.40"/>
<line x1="402.60" y1="764.80" x2="409.80" y2="764.80" stroke="#000" stroke-width="2.40"/>
<line x1="437.50" y1="732.70" x2="437.50" y2="761.90" stroke="#000" stroke-width="2.40"/>
<line x1="433.90" y1="732.70" x2="441.10" y2="732.70" stroke="#000" stroke-width="2.40"/>
<line x1="433.90" y1="761.90" x2="441.10" y2="761.90" stroke="#000" stroke-width="2.40"/>
<polyline points="187.10,662.00 218.40,665.30 249.70,670.90 281.00,673.70 312.30,705.70 343.60,738.60 374.90,744.90 406.20,747.30 437.50,747.30" fill="none" stroke="#000" stroke-width="3.40" stroke-linejoin="round"/>
<circle cx="187.10" cy="662.00" r="4.30" fill="#000"/>
<circle cx="218.40" cy="665.30" r="4.30" fill="#000"/>
<circle cx="249.70" cy="670.90" r="4.30" fill="#000"/>
<circle cx="281.00" cy="673.70" r="4.30" fill="#000"/>
<circle cx="312.30" cy="705.70" r="4.30" fill="#000"/>
<circle cx="343.60" cy="738.60" r="4.30" fill="#000"/>
<circle cx="374.90" cy="744.90" r="4.30" fill="#000"/>
<circle cx="406.20" cy="747.30" r="4.30" fill="#000"/>
<circle cx="437.50" cy="747.30" r="4.30" fill="#000"/>
<line x1="117.40" y1="1040.00" x2="117.40" y2="1229.00" stroke="#000" stroke-width="2.60"/>
<line x1="112.60" y1="1041.30" x2="117.40" y2="1041.30" stroke="#000" stroke-width="2.60"/>
<text transform="translate(55.26 1051.50) scale(1 1.040)" font-size="29.50" fill="#1a1a1a">150</text>
<line x1="112.60" y1="1087.90" x2="117.40" y2="1087.90" stroke="#000" stroke-width="2.60"/>
<text transform="translate(55.26 1098.10) scale(1 1.040)" font-size="29.50" fill="#1a1a1a">100</text>
<line x1="112.60" y1="1134.50" x2="117.40" y2="1134.50" stroke="#000" stroke-width="2.60"/>
<text transform="translate(71.64 1144.70) scale(1 1.040)" font-size="29.50" fill="#1a1a1a">50</text>
<line x1="112.60" y1="1181.10" x2="117.40" y2="1181.10" stroke="#000" stroke-width="2.60"/>
<text transform="translate(88.01 1191.30) scale(1 1.040)" font-size="29.50" fill="#1a1a1a">0</text>
<line x1="112.60" y1="1227.70" x2="117.40" y2="1227.70" stroke="#000" stroke-width="2.60"/>
<text transform="translate(61.75 1237.90) scale(1 1.040)" font-size="29.50" fill="#1a1a1a">-50</text>
<line x1="140.30" y1="1228.00" x2="455.20" y2="1228.00" stroke="#000" stroke-width="2.60"/>
<line x1="141.60" y1="1228.00" x2="141.60" y2="1234.00" stroke="#000" stroke-width="2.60"/>
<text transform="translate(118.17 1263.20) scale(1 1.040)" font-size="29.50" fill="#1a1a1a">0.001</text>
<line x1="245.70" y1="1228.00" x2="245.70" y2="1234.00" stroke="#000" stroke-width="2.60"/>
<text transform="translate(238.25 1263.20) scale(1 1.040)" font-size="29.50" fill="#1a1a1a">1</text>
<line x1="349.60" y1="1228.00" x2="349.60" y2="1234.00" stroke="#000" stroke-width="2.60"/>
<text transform="translate(330.43 1263.20) scale(1 1.040)" font-size="29.50" fill="#1a1a1a">100</text>
<line x1="453.90" y1="1228.00" x2="453.90" y2="1234.00" stroke="#000" stroke-width="2.60"/>
<text transform="translate(419.68 1263.20) scale(1 1.040)" font-size="29.50" fill="#1a1a1a">10000</text>
<text transform="translate(192.98 1295.80) scale(1 0.994)" font-size="30.27" fill="#1a1a1a">[Mubritinib] (nM)</text>
<text transform="translate(44.40 1210.02) rotate(-90) scale(1 0.985)" font-size="30.00" fill="#1a1a1a">% cell growth</text>
<text transform="translate(245.28 1009.40) scale(1 1.040)" font-size="30.23" fill="#1a1a1a">R1-D567</text>
<text transform="translate(135.88 1041.70) scale(1 1.032)" font-size="30.21" fill="#1a1a1a">IC50=12.3 nM (+/- 5.6 nM)</text>
<polyline points="187.10,1081.90 218.40,1092.40 249.70,1104.30 281.00,1093.80 312.30,1145.70 343.60,1166.70 374.90,1168.80 406.20,1170.20 437.50,1173.70" fill="none" stroke="#bdbdbd" stroke-width="2.50" stroke-linejoin="round"/>
<polyline points="187.10,1092.40 218.40,1095.90 249.70,1103.60 281.00,1097.30 312.30,1148.50 343.60,1168.10 374.90,1170.90 406.20,1173.00 437.50,1174.40" fill="none" stroke="#bdbdbd" stroke-width="2.50" stroke-linejoin="round"/>
<polyline points="187.10,1093.10 218.40,1098.00 249.70,1112.00 281.00,1095.20 312.30,1150.00 343.60,1169.00 374.90,1172.00 406.20,1174.00 437.50,1174.40" fill="none" stroke="#bdbdbd" stroke-width="2.50" stroke-linejoin="round"/>
<polyline points="187.10,1114.10 218.40,1122.60 249.70,1126.10 281.00,1133.80 312.30,1152.70 343.60,1171.60 374.90,1177.20 406.20,1176.50 437.50,1176.50" fill="none" stroke="#bdbdbd" stroke-width="2.50" stroke-linejoin="round"/>
<polyline points="187.10,1113.40 218.40,1116.20 249.70,1107.10 281.00,1135.90 312.30,1154.10 343.60,1172.30 374.90,1177.90 406.20,1177.90 437.50,1175.80" fill="none" stroke="#bdbdbd" stroke-width="2.50" stroke-linejoin="round"/>
<line x1="187.10" y1="1084.30" x2="187.10" y2="1110.90" stroke="#000" stroke-width="2.40"/>
<line x1="183.50" y1="1084.30" x2="190.70" y2="1084.30" stroke="#000" stroke-width="2.40"/>
<line x1="183.50" y1="1110.90" x2="190.70" y2="1110.90" stroke="#000" stroke-width="2.40"/>
<line x1="218.40" y1="1092.40" x2="218.40" y2="1119.00" stroke="#000" stroke-width="2.40"/>
<line x1="214.80" y1="1092.40" x2="222.00" y2="1092.40" stroke="#000" stroke-width="2.40"/>
<line x1="214.80" y1="1119.00" x2="222.00" y2="1119.00" stroke="#000" stroke-width="2.40"/>
<line x1="249.70" y1="1100.10" x2="249.70" y2="1119.70" stroke="#000" stroke-width="2.40"/>
<line x1="246.10" y1="1100.10" x2="253.30" y2="1100.10" stroke="#000" stroke-width="2.40"/>
<line x1="246.10" y1="1119.70" x2="253.30" y2="1119.70" stroke="#000" stroke-width="2.40"/>
<line x1="281.00" y1="1097.70" x2="281.00" y2="1138.90" stroke="#000" stroke-width="2.40"/>
<line x1="277.40" y1="1097.70" x2="284.60" y2="1097.70" stroke="#000" stroke-width="2.40"/>
<line x1="277.40" y1="1138.90" x2="284.60" y2="1138.90" stroke="#000" stroke-width="2.40"/>
<line x1="312.30" y1="1144.30" x2="312.30" y2="1154.10" stroke="#000" stroke-width="2.40"/>
<line x1="308.70" y1="1144.30" x2="315.90" y2="1144.30" stroke="#000" stroke-width="2.40"/>
<line x1="308.70" y1="1154.10" x2="315.90" y2="1154.10" stroke="#000" stroke-width="2.40"/>
<line x1="343.60" y1="1165.70" x2="343.60" y2="1174.70" stroke="#000" stroke-width="2.40"/>
<line x1="340.00" y1="1165.70" x2="347.20" y2="1165.70" stroke="#000" stroke-width="2.40"/>
<line x1="340.00" y1="1174.70" x2="347.20" y2="1174.70" stroke="#000" stroke-width="2.40"/>
<line x1="374.90" y1="1170.40" x2="374.90" y2="1178.40" stroke="#000" stroke-width="2.40"/>
<line x1="371.30" y1="1170.40" x2="378.50" y2="1170.40" stroke="#000" stroke-width="2.40"/>
<line x1="371.30" y1="1178.40" x2="378.50" y2="1178.40" stroke="#000" stroke-width="2.40"/>
<line x1="406.20" y1="1170.90" x2="406.20" y2="1177.90" stroke="#000" stroke-width="2.40"/>
<line x1="402.60" y1="1170.90" x2="409.80" y2="1170.90" stroke="#000" stroke-width="2.40"/>
<line x1="402.60" y1="1177.90" x2="409.80" y2="1177.90" stroke="#000" stroke-width="2.40"/>
<polyline points="187.10,1097.60 218.40,1105.70 249.70,1109.90 281.00,1118.30 312.30,1149.20 343.60,1170.20 374.90,1174.40 406.20,1174.40 437.50,1174.40" fill="none" stroke="#000" stroke-width="3.40" stroke-linejoin="round"/>
<circle cx="187.10" cy="1097.60" r="4.30" fill="#000"/>
<circle cx="218.40" cy="1105.70" r="4.30" fill="#000"/>
<circle cx="249.70" cy="1109.90" r="4.30" fill="#000"/>
<circle cx="281.00" cy="1118.30" r="4.30" fill="#000"/>
<circle cx="312.30" cy="1149.20" r="4.30" fill="#000"/>
<circle cx="343.60" cy="1170.20" r="4.30" fill="#000"/>
<circle cx="374.90" cy="1174.40" r="4.30" fill="#000"/>
<circle cx="406.20" cy="1174.40" r="4.30" fill="#000"/>
<circle cx="437.50" cy="1174.40" r="4.30" fill="#000"/>
<line x1="644.20" y1="597.10" x2="644.20" y2="785.50" stroke="#000" stroke-width="2.60"/>
<line x1="639.40" y1="598.40" x2="644.20" y2="598.40" stroke="#000" stroke-width="2.60"/>
<text transform="translate(582.06 608.60) scale(1 1.040)" font-size="29.50" fill="#1a1a1a">150</text>
<line x1="639.40" y1="644.85" x2="644.20" y2="644.85" stroke="#000" stroke-width="2.60"/>
<text transform="translate(582.06 655.05) scale(1 1.040)" font-size="29.50" fill="#1a1a1a">100</text>
<line x1="639.40" y1="691.30" x2="644.20" y2="691.30" stroke="#000" stroke-width="2.60"/>
<text transform="translate(598.43 701.50) scale(1 1.040)" font-size="29.50" fill="#1a1a1a">50</text>
<line x1="639.40" y1="737.75" x2="644.20" y2="737.75" stroke="#000" stroke-width="2.60"/>
<text transform="translate(614.81 747.95) scale(1 1.040)" font-size="29.50" fill="#1a1a1a">0</text>
<line x1="639.40" y1="784.20" x2="644.20" y2="784.20" stroke="#000" stroke-width="2.60"/>
<text transform="translate(588.55 794.40) scale(1 1.040)" font-size="29.50" fill="#1a1a1a">-50</text>
<line x1="666.60" y1="784.20" x2="979.90" y2="784.20" stroke="#000" stroke-width="2.60"/>
<line x1="667.90" y1="784.20" x2="667.90" y2="790.20" stroke="#000" stroke-width="2.60"/>
<text transform="translate(638.07 819.40) scale(1 1.040)" font-size="29.50" fill="#1a1a1a">0.001</text>
<line x1="772.00" y1="784.20" x2="772.00" y2="790.20" stroke="#000" stroke-width="2.60"/>
<text transform="translate(758.15 819.40) scale(1 1.040)" font-size="29.50" fill="#1a1a1a">1</text>
<line x1="875.10" y1="784.20" x2="875.10" y2="790.20" stroke="#000" stroke-width="2.60"/>
<text transform="translate(850.32 819.40) scale(1 1.040)" font-size="29.50" fill="#1a1a1a">100</text>
<line x1="978.60" y1="784.20" x2="978.60" y2="790.20" stroke="#000" stroke-width="2.60"/>
<text transform="translate(939.58 819.40) scale(1 1.040)" font-size="29.50" fill="#1a1a1a">10000</text>
<text transform="translate(712.88 852.00) scale(1 0.994)" font-size="30.27" fill="#1a1a1a">[Mubritinib] (nM)</text>
<text transform="translate(571.20 766.82) rotate(-90) scale(1 0.985)" font-size="30.00" fill="#1a1a1a">% cell growth</text>
<text transform="translate(735.39 553.00) scale(1 1.010)" font-size="30.15" fill="#1a1a1a">LNCaP-Vector</text>
<text transform="translate(676.19 585.80) scale(1 1.031)" font-size="30.16" fill="#1a1a1a">IC50=5.0 nM (+/- 2.7nM)</text>
<polyline points="713.40,650.50 744.70,658.70 776.00,666.40 807.30,678.30 838.60,693.00 869.90,711.90 901.20,721.10 932.50,723.20 963.80,725.30" fill="none" stroke="#bdbdbd" stroke-width="2.50" stroke-linejoin="round"/>
<polyline points="713.40,655.20 744.70,667.10 776.00,679.70 807.30,691.00 838.60,708.50 869.90,714.00 901.20,723.50 932.50,724.80 963.80,726.50" fill="none" stroke="#bdbdbd" stroke-width="2.50" stroke-linejoin="round"/>
<polyline points="713.40,652.00 744.70,662.00 776.00,670.00 807.30,682.00 838.60,702.00 869.90,712.00 901.20,722.00 932.50,724.00 963.80,726.00" fill="none" stroke="#bdbdbd" stroke-width="2.50" stroke-linejoin="round"/>
<line x1="744.70" y1="661.90" x2="744.70" y2="664.90" stroke="#000" stroke-width="2.40"/>
<line x1="741.20" y1="661.90" x2="748.20" y2="661.90" stroke="#000" stroke-width="2.40"/>
<line x1="741.20" y1="664.90" x2="748.20" y2="664.90" stroke="#000" stroke-width="2.40"/>
<line x1="776.00" y1="670.70" x2="776.00" y2="675.70" stroke="#000" stroke-width="2.40"/>
<line x1="772.50" y1="670.70" x2="779.50" y2="670.70" stroke="#000" stroke-width="2.40"/>
<line x1="772.50" y1="675.70" x2="779.50" y2="675.70" stroke="#000" stroke-width="2.40"/>
<line x1="807.30" y1="682.20" x2="807.30" y2="687.20" stroke="#000" stroke-width="2.40"/>
<line x1="803.80" y1="682.20" x2="810.80" y2="682.20" stroke="#000" stroke-width="2.40"/>
<line x1="803.80" y1="687.20" x2="810.80" y2="687.20" stroke="#000" stroke-width="2.40"/>
<line x1="838.60" y1="698.90" x2="838.60" y2="711.10" stroke="#000" stroke-width="2.40"/>
<line x1="835.10" y1="698.90" x2="842.10" y2="698.90" stroke="#000" stroke-width="2.40"/>
<line x1="835.10" y1="711.10" x2="842.10" y2="711.10" stroke="#000" stroke-width="2.40"/>
<line x1="869.90" y1="711.20" x2="869.90" y2="714.20" stroke="#000" stroke-width="2.40"/>
<line x1="866.40" y1="711.20" x2="873.40" y2="711.20" stroke="#000" stroke-width="2.40"/>
<line x1="866.40" y1="714.20" x2="873.40" y2="714.20" stroke="#000" stroke-width="2.40"/>
<polyline points="713.40,653.10 744.70,663.40 776.00,673.20 807.30,684.70 838.60,705.00 869.90,712.70 901.20,722.50 932.50,724.20 963.80,726.00" fill="none" stroke="#000" stroke-width="5.20" stroke-linejoin="round"/>
<circle cx="713.40" cy="653.10" r="4.40" fill="#000"/>
<circle cx="744.70" cy="663.40" r="4.40" fill="#000"/>
<circle cx="776.00" cy="673.20" r="4.40" fill="#000"/>
<circle cx="807.30" cy="684.70" r="4.40" fill="#000"/>
<circle cx="838.60" cy="705.00" r="4.40" fill="#000"/>
<circle cx="869.90" cy="712.70" r="4.40" fill="#000"/>
<circle cx="901.20" cy="722.50" r="4.40" fill="#000"/>
<circle cx="932.50" cy="724.20" r="4.40" fill="#000"/>
<circle cx="963.80" cy="726.00" r="4.40" fill="#000"/>
<line x1="644.20" y1="1042.30" x2="644.20" y2="1229.80" stroke="#000" stroke-width="2.60"/>
<line x1="639.40" y1="1043.60" x2="644.20" y2="1043.60" stroke="#000" stroke-width="2.60"/>
<text transform="translate(582.06 1053.80) scale(1 1.040)" font-size="29.50" fill="#1a1a1a">150</text>
<line x1="639.40" y1="1089.82" x2="644.20" y2="1089.82" stroke="#000" stroke-width="2.60"/>
<text transform="translate(582.06 1100.02) scale(1 1.040)" font-size="29.50" fill="#1a1a1a">100</text>
<line x1="639.40" y1="1136.05" x2="644.20" y2="1136.05" stroke="#000" stroke-width="2.60"/>
<text transform="translate(598.43 1146.25) scale(1 1.040)" font-size="29.50" fill="#1a1a1a">50</text>
<line x1="639.40" y1="1182.28" x2="644.20" y2="1182.28" stroke="#000" stroke-width="2.60"/>
<text transform="translate(614.81 1192.48) scale(1 1.040)" font-size="29.50" fill="#1a1a1a">0</text>
<line x1="639.40" y1="1228.50" x2="644.20" y2="1228.50" stroke="#000" stroke-width="2.60"/>
<text transform="translate(588.55 1238.70) scale(1 1.040)" font-size="29.50" fill="#1a1a1a">-50</text>
<line x1="666.60" y1="1228.50" x2="979.90" y2="1228.50" stroke="#000" stroke-width="2.60"/>
<line x1="667.90" y1="1228.50" x2="667.90" y2="1234.50" stroke="#000" stroke-width="2.60"/>
<text transform="translate(638.07 1263.70) scale(1 1.040)" font-size="29.50" fill="#1a1a1a">0.001</text>
<line x1="772.00" y1="1228.50" x2="772.00" y2="1234.50" stroke="#000" stroke-width="2.60"/>
<text transform="translate(758.15 1263.70) scale(1 1.040)" font-size="29.50" fill="#1a1a1a">1</text>
<line x1="875.10" y1="1228.50" x2="875.10" y2="1234.50" stroke="#000" stroke-width="2.60"/>
<text transform="translate(850.32 1263.70) scale(1 1.040)" font-size="29.50" fill="#1a1a1a">100</text>
<line x1="978.60" y1="1228.50" x2="978.60" y2="1234.50" stroke="#000" stroke-width="2.60"/>
<text transform="translate(939.58 1263.70) scale(1 1.040)" font-size="29.50" fill="#1a1a1a">10000</text>
<text transform="translate(712.88 1296.30) scale(1 0.994)" font-size="30.27" fill="#1a1a1a">[Mubritinib] (nM)</text>
<text transform="translate(571.20 1211.57) rotate(-90) scale(1 0.985)" font-size="30.00" fill="#1a1a1a">% cell growth</text>
<text transform="translate(742.28 1009.20) scale(1 1.034)" font-size="30.25" fill="#1a1a1a">LNCaP-KLF5</text>
<text transform="translate(671.38 1042.00) scale(1 1.031)" font-size="30.20" fill="#1a1a1a">IC50=4.4 nM (+/- 1.3 nM)</text>
<polyline points="713.40,1087.00 744.70,1095.40 776.00,1106.60 807.30,1131.10 838.60,1145.90 869.90,1162.70 901.20,1171.00 932.50,1170.50 963.80,1173.00" fill="none" stroke="#bdbdbd" stroke-width="2.50" stroke-linejoin="round"/>
<polyline points="713.40,1092.50 744.70,1101.00 776.00,1109.40 807.30,1135.00 838.60,1149.00 869.90,1163.50 901.20,1171.50 932.50,1170.60 963.80,1173.30" fill="none" stroke="#bdbdbd" stroke-width="2.50" stroke-linejoin="round"/>
<polyline points="713.40,1109.40 744.70,1122.00 776.00,1119.90 807.30,1143.50 838.60,1155.00 869.90,1165.50 901.20,1172.30 932.50,1171.00 963.80,1174.00" fill="none" stroke="#bdbdbd" stroke-width="2.50" stroke-linejoin="round"/>
<line x1="713.40" y1="1087.50" x2="713.40" y2="1104.70" stroke="#000" stroke-width="2.40"/>
<line x1="709.90" y1="1087.50" x2="716.90" y2="1087.50" stroke="#000" stroke-width="2.40"/>
<line x1="709.90" y1="1104.70" x2="716.90" y2="1104.70" stroke="#000" stroke-width="2.40"/>
<line x1="744.70" y1="1097.20" x2="744.70" y2="1114.60" stroke="#000" stroke-width="2.40"/>
<line x1="741.20" y1="1097.20" x2="748.20" y2="1097.20" stroke="#000" stroke-width="2.40"/>
<line x1="741.20" y1="1114.60" x2="748.20" y2="1114.60" stroke="#000" stroke-width="2.40"/>
<line x1="776.00" y1="1112.30" x2="776.00" y2="1116.30" stroke="#000" stroke-width="2.40"/>
<line x1="772.50" y1="1112.30" x2="779.50" y2="1112.30" stroke="#000" stroke-width="2.40"/>
<line x1="772.50" y1="1116.30" x2="779.50" y2="1116.30" stroke="#000" stroke-width="2.40"/>
<line x1="807.30" y1="1135.00" x2="807.30" y2="1140.00" stroke="#000" stroke-width="2.40"/>
<line x1="803.80" y1="1135.00" x2="810.80" y2="1135.00" stroke="#000" stroke-width="2.40"/>
<line x1="803.80" y1="1140.00" x2="810.80" y2="1140.00" stroke="#000" stroke-width="2.40"/>
<line x1="838.60" y1="1149.30" x2="838.60" y2="1152.30" stroke="#000" stroke-width="2.40"/>
<line x1="835.10" y1="1149.30" x2="842.10" y2="1149.30" stroke="#000" stroke-width="2.40"/>
<line x1="835.10" y1="1152.30" x2="842.10" y2="1152.30" stroke="#000" stroke-width="2.40"/>
<polyline points="713.40,1096.10 744.70,1105.90 776.00,1114.30 807.30,1137.50 838.60,1150.80 869.90,1164.10 901.20,1171.80 932.50,1170.80 963.80,1173.60" fill="none" stroke="#000" stroke-width="5.20" stroke-linejoin="round"/>
<circle cx="713.40" cy="1096.10" r="4.40" fill="#000"/>
<circle cx="744.70" cy="1105.90" r="4.40" fill="#000"/>
<circle cx="776.00" cy="1114.30" r="4.40" fill="#000"/>
<circle cx="807.30" cy="1137.50" r="4.40" fill="#000"/>
<circle cx="838.60" cy="1150.80" r="4.40" fill="#000"/>
<circle cx="869.90" cy="1164.10" r="4.40" fill="#000"/>
<circle cx="901.20" cy="1171.80" r="4.40" fill="#000"/>
<circle cx="932.50" cy="1170.80" r="4.40" fill="#000"/>
<circle cx="963.80" cy="1173.60" r="4.40" fill="#000"/>
<line x1="1203.80" y1="520.50" x2="1203.80" y2="786.70" stroke="#000" stroke-width="2.20"/>
<line x1="1190.40" y1="522.22" x2="1203.80" y2="522.22" stroke="#000" stroke-width="2.50"/>
<text transform="translate(1168.41 535.12) scale(1 1.040)" font-size="29.50" fill="#1a1a1a">8</text>
<line x1="1190.40" y1="584.34" x2="1203.80" y2="584.34" stroke="#000" stroke-width="2.50"/>
<text transform="translate(1168.55 597.24) scale(1 1.040)" font-size="29.50" fill="#1a1a1a">6</text>
<line x1="1190.40" y1="646.46" x2="1203.80" y2="646.46" stroke="#000" stroke-width="2.50"/>
<text transform="translate(1168.11 659.36) scale(1 1.040)" font-size="29.50" fill="#1a1a1a">4</text>
<line x1="1190.40" y1="708.58" x2="1203.80" y2="708.58" stroke="#000" stroke-width="2.50"/>
<text transform="translate(1168.70 721.48) scale(1 1.040)" font-size="29.50" fill="#1a1a1a">2</text>
<line x1="1190.40" y1="770.70" x2="1203.80" y2="770.70" stroke="#000" stroke-width="2.50"/>
<text transform="translate(1168.41 783.60) scale(1 1.040)" font-size="29.50" fill="#1a1a1a">0</text>
<line x1="1202.70" y1="786.70" x2="1515.60" y2="786.70" stroke="#000" stroke-width="2.60"/>
<circle cx="1213.00" cy="770.70" r="1.70" fill="#000"/>
<circle cx="1222.32" cy="770.70" r="1.70" fill="#000"/>
<circle cx="1231.64" cy="770.70" r="1.70" fill="#000"/>
<circle cx="1240.96" cy="770.70" r="1.70" fill="#000"/>
<circle cx="1250.28" cy="770.70" r="1.70" fill="#000"/>
<circle cx="1259.59" cy="770.70" r="1.70" fill="#000"/>
<circle cx="1268.91" cy="770.70" r="1.70" fill="#000"/>
<circle cx="1278.23" cy="770.70" r="1.70" fill="#000"/>
<circle cx="1287.55" cy="770.70" r="1.70" fill="#000"/>
<circle cx="1296.87" cy="770.70" r="1.70" fill="#000"/>
<circle cx="1306.19" cy="770.70" r="1.70" fill="#000"/>
<circle cx="1315.51" cy="770.70" r="1.70" fill="#000"/>
<circle cx="1324.83" cy="770.70" r="1.70" fill="#000"/>
<circle cx="1334.14" cy="770.70" r="1.70" fill="#000"/>
<circle cx="1343.46" cy="770.70" r="1.70" fill="#000"/>
<circle cx="1352.78" cy="770.70" r="1.70" fill="#000"/>
<circle cx="1362.10" cy="770.70" r="1.70" fill="#000"/>
<circle cx="1371.42" cy="770.70" r="1.70" fill="#000"/>
<circle cx="1380.74" cy="770.70" r="1.70" fill="#000"/>
<circle cx="1390.06" cy="770.70" r="1.70" fill="#000"/>
<circle cx="1399.38" cy="770.70" r="1.70" fill="#000"/>
<circle cx="1408.69" cy="770.70" r="1.70" fill="#000"/>
<circle cx="1418.01" cy="770.70" r="1.70" fill="#000"/>
<circle cx="1427.33" cy="770.70" r="1.70" fill="#000"/>
<circle cx="1436.65" cy="770.70" r="1.70" fill="#000"/>
<circle cx="1445.97" cy="770.70" r="1.70" fill="#000"/>
<circle cx="1455.29" cy="770.70" r="1.70" fill="#000"/>
<circle cx="1464.61" cy="770.70" r="1.70" fill="#000"/>
<circle cx="1473.93" cy="770.70" r="1.70" fill="#000"/>
<circle cx="1483.24" cy="770.70" r="1.70" fill="#000"/>
<circle cx="1492.56" cy="770.70" r="1.70" fill="#000"/>
<circle cx="1501.88" cy="770.70" r="1.70" fill="#000"/>
<circle cx="1511.20" cy="770.70" r="1.70" fill="#000"/>
<text transform="translate(1120.30 781.24) rotate(-90) scale(1 0.988)" font-size="29.20" fill="#1a1a1a">Relative number of</text>
<text transform="translate(1152.30 789.80) rotate(-90) scale(1 0.985)" font-size="30.00" fill="#1a1a1a">colonies in soft agar</text>
<line x1="1232.90" y1="728.20" x2="1232.90" y2="752.20" stroke="#000" stroke-width="2.00"/>
<line x1="1226.00" y1="728.20" x2="1239.80" y2="728.20" stroke="#000" stroke-width="2.00"/>
<line x1="1226.00" y1="752.20" x2="1239.80" y2="752.20" stroke="#000" stroke-width="2.00"/>
<circle cx="1227.80" cy="739.60" r="3.25" fill="#000"/>
<circle cx="1238.90" cy="739.60" r="3.25" fill="#000"/>
<circle cx="1232.90" cy="731.10" r="3.25" fill="#000"/>
<circle cx="1232.90" cy="748.90" r="3.25" fill="#000"/>
<line x1="1218.10" y1="740.40" x2="1247.70" y2="740.40" stroke="#000" stroke-width="3.00"/>
<line x1="1277.80" y1="746.20" x2="1277.80" y2="756.70" stroke="#000" stroke-width="2.00"/>
<line x1="1271.10" y1="746.20" x2="1284.50" y2="746.20" stroke="#000" stroke-width="2.00"/>
<line x1="1271.10" y1="756.70" x2="1284.50" y2="756.70" stroke="#000" stroke-width="2.00"/>
<rect x="1263.50" y="750.50" width="6.00" height="6.00" fill="#000"/>
<rect x="1277.00" y="747.00" width="6.00" height="6.00" fill="#000"/>
<rect x="1286.50" y="744.50" width="6.00" height="6.00" fill="#000"/>
<rect x="1286.50" y="750.50" width="6.00" height="6.00" fill="#000"/>
<line x1="1263.30" y1="751.10" x2="1292.30" y2="751.10" stroke="#000" stroke-width="3.00"/>
<circle cx="1310.70" cy="771.10" r="3.25" fill="#000"/>
<circle cx="1318.20" cy="768.90" r="3.25" fill="#000"/>
<circle cx="1325.60" cy="771.60" r="3.25" fill="#000"/>
<circle cx="1333.30" cy="771.10" r="3.25" fill="#000"/>
<line x1="1306.50" y1="770.50" x2="1335.50" y2="770.50" stroke="#000" stroke-width="3.00"/>
<line x1="1395.40" y1="589.60" x2="1395.40" y2="648.00" stroke="#000" stroke-width="2.00"/>
<line x1="1388.20" y1="589.60" x2="1402.60" y2="589.60" stroke="#000" stroke-width="2.00"/>
<line x1="1388.20" y1="648.00" x2="1402.60" y2="648.00" stroke="#000" stroke-width="2.00"/>
<circle cx="1395.40" cy="592.10" r="3.25" fill="#000"/>
<circle cx="1395.40" cy="620.30" r="3.25" fill="#000"/>
<circle cx="1389.30" cy="631.70" r="3.25" fill="#000"/>
<circle cx="1401.40" cy="630.50" r="3.25" fill="#000"/>
<line x1="1380.40" y1="618.60" x2="1410.40" y2="618.60" stroke="#000" stroke-width="3.00"/>
<line x1="1439.70" y1="644.60" x2="1439.70" y2="665.10" stroke="#000" stroke-width="2.00"/>
<line x1="1432.70" y1="644.60" x2="1446.70" y2="644.60" stroke="#000" stroke-width="2.00"/>
<line x1="1432.70" y1="665.10" x2="1446.70" y2="665.10" stroke="#000" stroke-width="2.00"/>
<rect x="1430.60" y="647.10" width="6.00" height="6.00" fill="#000"/>
<rect x="1443.00" y="646.20" width="6.00" height="6.00" fill="#000"/>
<rect x="1437.00" y="655.60" width="6.00" height="6.00" fill="#000"/>
<rect x="1437.00" y="660.40" width="6.00" height="6.00" fill="#000"/>
<line x1="1425.10" y1="654.80" x2="1454.30" y2="654.80" stroke="#000" stroke-width="3.00"/>
<line x1="1484.00" y1="737.80" x2="1484.00" y2="753.60" stroke="#000" stroke-width="2.00"/>
<line x1="1477.00" y1="737.80" x2="1491.00" y2="737.80" stroke="#000" stroke-width="2.00"/>
<circle cx="1477.90" cy="745.50" r="3.25" fill="#000"/>
<circle cx="1490.30" cy="744.10" r="3.25" fill="#000"/>
<circle cx="1477.90" cy="763.00" r="3.25" fill="#000"/>
<circle cx="1490.30" cy="762.50" r="3.25" fill="#000"/>
<line x1="1469.30" y1="753.60" x2="1498.70" y2="753.60" stroke="#000" stroke-width="3.00"/>
<text transform="translate(1083.40 826.00) scale(1 0.991)" font-size="30.00" fill="#1a1a1a">Lapatinib:</text>
<text transform="translate(1117.10 862.00) scale(1 1.012)" font-size="30.00" fill="#1a1a1a">(µM)</text>
<text transform="translate(1228.17 826.00) scale(1 1.000)" font-size="30.00" fill="#1a1a1a">-</text>
<text transform="translate(1269.67 826.00) scale(1 1.040)" font-size="30.00" fill="#1a1a1a">2</text>
<text transform="translate(1306.92 826.00) scale(1 1.040)" font-size="30.00" fill="#1a1a1a">10</text>
<text transform="translate(1390.67 826.00) scale(1 1.000)" font-size="30.00" fill="#1a1a1a">-</text>
<text transform="translate(1432.08 826.00) scale(1 1.040)" font-size="30.00" fill="#1a1a1a">2</text>
<text transform="translate(1469.42 826.00) scale(1 1.040)" font-size="30.00" fill="#1a1a1a">10</text>
<line x1="1217.40" y1="836.80" x2="1348.40" y2="836.80" stroke="#000" stroke-width="2.40"/>
<line x1="1380.00" y1="836.80" x2="1510.60" y2="836.80" stroke="#000" stroke-width="2.40"/>
<text transform="translate(1227.60 869.30) scale(1 1.029)" font-size="30.00" fill="#1a1a1a">LNCaP-</text>
<text transform="translate(1241.05 901.90) scale(1 0.994)" font-size="30.00" fill="#1a1a1a">Vector</text>
<text transform="translate(1389.90 869.30) scale(1 1.029)" font-size="30.00" fill="#1a1a1a">LNCaP-</text>
<text transform="translate(1407.40 901.90) scale(1 1.040)" font-size="30.00" fill="#1a1a1a">KLF5</text>
<line x1="1202.50" y1="949.20" x2="1202.50" y2="1230.70" stroke="#000" stroke-width="2.80"/>
<line x1="1188.70" y1="951.10" x2="1202.50" y2="951.10" stroke="#000" stroke-width="3.40"/>
<text transform="translate(1167.11 962.40) scale(1 1.040)" font-size="29.50" fill="#1a1a1a">8</text>
<line x1="1188.70" y1="1016.90" x2="1202.50" y2="1016.90" stroke="#000" stroke-width="3.40"/>
<text transform="translate(1167.25 1028.20) scale(1 1.040)" font-size="29.50" fill="#1a1a1a">6</text>
<line x1="1188.70" y1="1082.70" x2="1202.50" y2="1082.70" stroke="#000" stroke-width="3.40"/>
<text transform="translate(1166.81 1094.00) scale(1 1.040)" font-size="29.50" fill="#1a1a1a">4</text>
<line x1="1188.70" y1="1148.50" x2="1202.50" y2="1148.50" stroke="#000" stroke-width="3.40"/>
<text transform="translate(1167.40 1159.80) scale(1 1.040)" font-size="29.50" fill="#1a1a1a">2</text>
<line x1="1188.70" y1="1214.30" x2="1202.50" y2="1214.30" stroke="#000" stroke-width="3.40"/>
<text transform="translate(1167.11 1225.60) scale(1 1.040)" font-size="29.50" fill="#1a1a1a">0</text>
<line x1="1201.10" y1="1230.70" x2="1533.50" y2="1230.70" stroke="#000" stroke-width="3.80"/>
<circle cx="1212.80" cy="1214.30" r="1.70" fill="#000"/>
<circle cx="1222.70" cy="1214.30" r="1.70" fill="#000"/>
<circle cx="1232.61" cy="1214.30" r="1.70" fill="#000"/>
<circle cx="1242.51" cy="1214.30" r="1.70" fill="#000"/>
<circle cx="1252.41" cy="1214.30" r="1.70" fill="#000"/>
<circle cx="1262.32" cy="1214.30" r="1.70" fill="#000"/>
<circle cx="1272.22" cy="1214.30" r="1.70" fill="#000"/>
<circle cx="1282.12" cy="1214.30" r="1.70" fill="#000"/>
<circle cx="1292.03" cy="1214.30" r="1.70" fill="#000"/>
<circle cx="1301.93" cy="1214.30" r="1.70" fill="#000"/>
<circle cx="1311.83" cy="1214.30" r="1.70" fill="#000"/>
<circle cx="1321.73" cy="1214.30" r="1.70" fill="#000"/>
<circle cx="1331.64" cy="1214.30" r="1.70" fill="#000"/>
<circle cx="1341.54" cy="1214.30" r="1.70" fill="#000"/>
<circle cx="1351.44" cy="1214.30" r="1.70" fill="#000"/>
<circle cx="1361.35" cy="1214.30" r="1.70" fill="#000"/>
<circle cx="1371.25" cy="1214.30" r="1.70" fill="#000"/>
<circle cx="1381.15" cy="1214.30" r="1.70" fill="#000"/>
<circle cx="1391.06" cy="1214.30" r="1.70" fill="#000"/>
<circle cx="1400.96" cy="1214.30" r="1.70" fill="#000"/>
<circle cx="1410.86" cy="1214.30" r="1.70" fill="#000"/>
<circle cx="1420.77" cy="1214.30" r="1.70" fill="#000"/>
<circle cx="1430.67" cy="1214.30" r="1.70" fill="#000"/>
<circle cx="1440.57" cy="1214.30" r="1.70" fill="#000"/>
<circle cx="1450.47" cy="1214.30" r="1.70" fill="#000"/>
<circle cx="1460.38" cy="1214.30" r="1.70" fill="#000"/>
<circle cx="1470.28" cy="1214.30" r="1.70" fill="#000"/>
<circle cx="1480.18" cy="1214.30" r="1.70" fill="#000"/>
<circle cx="1490.09" cy="1214.30" r="1.70" fill="#000"/>
<circle cx="1499.99" cy="1214.30" r="1.70" fill="#000"/>
<circle cx="1509.89" cy="1214.30" r="1.70" fill="#000"/>
<circle cx="1519.80" cy="1214.30" r="1.70" fill="#000"/>
<circle cx="1529.70" cy="1214.30" r="1.70" fill="#000"/>
<text transform="translate(1114.80 1204.73) rotate(-90) scale(1 0.988)" font-size="29.20" fill="#1a1a1a">Relative number of</text>
<text transform="translate(1146.80 1213.30) rotate(-90) scale(1 0.985)" font-size="30.00" fill="#1a1a1a">colonies in soft agar</text>
<line x1="1233.90" y1="1174.50" x2="1233.90" y2="1188.80" stroke="#000" stroke-width="2.00"/>
<line x1="1226.50" y1="1174.50" x2="1241.30" y2="1174.50" stroke="#000" stroke-width="2.00"/>
<line x1="1226.50" y1="1188.80" x2="1241.30" y2="1188.80" stroke="#000" stroke-width="2.00"/>
<circle cx="1221.50" cy="1176.20" r="3.60" fill="#000"/>
<circle cx="1221.50" cy="1186.70" r="3.60" fill="#000"/>
<circle cx="1233.90" cy="1180.30" r="3.60" fill="#000"/>
<circle cx="1246.10" cy="1182.10" r="3.60" fill="#000"/>
<line x1="1218.40" y1="1181.40" x2="1249.40" y2="1181.40" stroke="#000" stroke-width="3.00"/>
<line x1="1278.90" y1="1184.40" x2="1278.90" y2="1199.80" stroke="#000" stroke-width="2.00"/>
<line x1="1271.70" y1="1184.40" x2="1286.10" y2="1184.40" stroke="#000" stroke-width="2.00"/>
<line x1="1271.70" y1="1199.80" x2="1286.10" y2="1199.80" stroke="#000" stroke-width="2.00"/>
<rect x="1263.50" y="1186.20" width="6.60" height="6.60" fill="#000"/>
<rect x="1275.60" y="1185.70" width="6.60" height="6.60" fill="#000"/>
<rect x="1288.70" y="1186.70" width="6.60" height="6.60" fill="#000"/>
<rect x="1275.60" y="1195.40" width="6.60" height="6.60" fill="#000"/>
<line x1="1263.40" y1="1192.20" x2="1294.40" y2="1192.20" stroke="#000" stroke-width="3.00"/>
<circle cx="1310.40" cy="1209.00" r="3.60" fill="#000"/>
<circle cx="1318.40" cy="1206.70" r="3.60" fill="#000"/>
<circle cx="1327.20" cy="1209.70" r="3.60" fill="#000"/>
<circle cx="1335.00" cy="1207.80" r="3.60" fill="#000"/>
<line x1="1308.20" y1="1207.80" x2="1337.20" y2="1207.80" stroke="#000" stroke-width="3.00"/>
<line x1="1396.90" y1="964.60" x2="1396.90" y2="1085.70" stroke="#000" stroke-width="2.00"/>
<line x1="1389.30" y1="964.60" x2="1404.50" y2="964.60" stroke="#000" stroke-width="2.00"/>
<line x1="1389.30" y1="1085.70" x2="1404.50" y2="1085.70" stroke="#000" stroke-width="2.00"/>
<circle cx="1396.90" cy="983.30" r="3.60" fill="#000"/>
<circle cx="1396.90" cy="1002.60" r="3.60" fill="#000"/>
<circle cx="1396.90" cy="1051.60" r="3.60" fill="#000"/>
<circle cx="1396.90" cy="1061.70" r="3.60" fill="#000"/>
<line x1="1381.30" y1="1024.70" x2="1412.50" y2="1024.70" stroke="#000" stroke-width="3.00"/>
<line x1="1440.50" y1="1037.40" x2="1440.50" y2="1102.50" stroke="#000" stroke-width="2.00"/>
<line x1="1432.90" y1="1037.40" x2="1448.10" y2="1037.40" stroke="#000" stroke-width="2.00"/>
<line x1="1432.90" y1="1102.50" x2="1448.10" y2="1102.50" stroke="#000" stroke-width="2.00"/>
<rect x="1437.20" y="1040.10" width="6.60" height="6.60" fill="#000"/>
<rect x="1437.20" y="1062.70" width="6.60" height="6.60" fill="#000"/>
<rect x="1437.20" y="1074.50" width="6.60" height="6.60" fill="#000"/>
<rect x="1437.20" y="1088.50" width="6.60" height="6.60" fill="#000"/>
<line x1="1424.90" y1="1069.60" x2="1456.10" y2="1069.60" stroke="#000" stroke-width="3.00"/>
<line x1="1483.90" y1="1122.30" x2="1483.90" y2="1148.00" stroke="#000" stroke-width="2.00"/>
<line x1="1476.40" y1="1122.30" x2="1491.40" y2="1122.30" stroke="#000" stroke-width="2.00"/>
<circle cx="1471.70" cy="1138.40" r="3.60" fill="#000"/>
<circle cx="1483.90" cy="1143.30" r="3.60" fill="#000"/>
<circle cx="1496.40" cy="1138.40" r="3.60" fill="#000"/>
<circle cx="1483.90" cy="1172.30" r="3.60" fill="#000"/>
<line x1="1468.10" y1="1148.00" x2="1499.70" y2="1148.00" stroke="#000" stroke-width="3.00"/>
<text transform="translate(1075.50 1271.00) scale(1 0.991)" font-size="30.00" fill="#1a1a1a">Mubritinib:</text>
<text transform="translate(1114.40 1303.70) scale(1 1.012)" font-size="30.00" fill="#1a1a1a">(nM)</text>
<text transform="translate(1228.67 1271.00) scale(1 1.000)" font-size="30.00" fill="#1a1a1a">-</text>
<text transform="translate(1270.38 1271.00) scale(1 1.040)" font-size="30.00" fill="#1a1a1a">5</text>
<text transform="translate(1307.70 1271.00) scale(1 1.040)" font-size="30.00" fill="#1a1a1a">75</text>
<text transform="translate(1390.77 1271.00) scale(1 1.000)" font-size="30.00" fill="#1a1a1a">-</text>
<text transform="translate(1432.47 1271.00) scale(1 1.040)" font-size="30.00" fill="#1a1a1a">5</text>
<text transform="translate(1469.90 1271.00) scale(1 1.040)" font-size="30.00" fill="#1a1a1a">75</text>
<line x1="1217.40" y1="1282.30" x2="1348.40" y2="1282.30" stroke="#000" stroke-width="2.40"/>
<line x1="1380.00" y1="1282.30" x2="1510.60" y2="1282.30" stroke="#000" stroke-width="2.40"/>
<text transform="translate(1227.60 1315.00) scale(1 1.029)" font-size="30.00" fill="#1a1a1a">LNCaP-</text>
<text transform="translate(1241.05 1347.60) scale(1 0.994)" font-size="30.00" fill="#1a1a1a">Vector</text>
<text transform="translate(1389.90 1315.00) scale(1 1.029)" font-size="30.00" fill="#1a1a1a">LNCaP-</text>
<text transform="translate(1407.40 1347.60) scale(1 1.040)" font-size="30.00" fill="#1a1a1a">KLF5</text>
<line x1="1733.80" y1="642.00" x2="1733.80" y2="1087.50" stroke="#000" stroke-width="2.50"/>
<line x1="1727.30" y1="1087.50" x2="1998.00" y2="1087.50" stroke="#000" stroke-width="2.60"/>
<line x1="1727.40" y1="1087.50" x2="1733.80" y2="1087.50" stroke="#000" stroke-width="2.40"/>
<text transform="translate(1693.11 1098.70) scale(1 1.040)" font-size="29.50" fill="#1a1a1a">0</text>
<line x1="1727.40" y1="1024.04" x2="1733.80" y2="1024.04" stroke="#000" stroke-width="2.40"/>
<text transform="translate(1672.66 1035.04) scale(1 1.040)" font-size="29.50" fill="#1a1a1a">100</text>
<line x1="1727.40" y1="960.58" x2="1733.80" y2="960.58" stroke="#000" stroke-width="2.40"/>
<text transform="translate(1672.66 971.58) scale(1 1.040)" font-size="29.50" fill="#1a1a1a">200</text>
<line x1="1727.40" y1="897.12" x2="1733.80" y2="897.12" stroke="#000" stroke-width="2.40"/>
<text transform="translate(1672.66 908.12) scale(1 1.040)" font-size="29.50" fill="#1a1a1a">300</text>
<line x1="1727.40" y1="833.66" x2="1733.80" y2="833.66" stroke="#000" stroke-width="2.40"/>
<text transform="translate(1672.66 844.66) scale(1 1.040)" font-size="29.50" fill="#1a1a1a">400</text>
<line x1="1727.40" y1="770.20" x2="1733.80" y2="770.20" stroke="#000" stroke-width="2.40"/>
<text transform="translate(1672.66 781.20) scale(1 1.040)" font-size="29.50" fill="#1a1a1a">500</text>
<line x1="1727.40" y1="706.74" x2="1733.80" y2="706.74" stroke="#000" stroke-width="2.40"/>
<text transform="translate(1672.66 717.74) scale(1 1.040)" font-size="29.50" fill="#1a1a1a">600</text>
<line x1="1727.40" y1="643.28" x2="1733.80" y2="643.28" stroke="#000" stroke-width="2.40"/>
<text transform="translate(1672.66 654.28) scale(1 1.040)" font-size="29.50" fill="#1a1a1a">700</text>
<line x1="1787.50" y1="1087.50" x2="1787.50" y2="1096.30" stroke="#000" stroke-width="2.40"/>
<line x1="1843.50" y1="1087.50" x2="1843.50" y2="1096.30" stroke="#000" stroke-width="2.40"/>
<line x1="1898.00" y1="1087.50" x2="1898.00" y2="1096.30" stroke="#000" stroke-width="2.40"/>
<line x1="1950.40" y1="1087.50" x2="1950.40" y2="1096.30" stroke="#000" stroke-width="2.40"/>
<text transform="translate(1646.10 1016.50) rotate(-90) scale(1 0.985)" font-size="30.00" fill="#1a1a1a">number of migrated cells</text>
<circle cx="1788.10" cy="777.20" r="5.20" fill="#000"/>
<circle cx="1779.00" cy="811.80" r="5.20" fill="#000"/>
<circle cx="1797.90" cy="811.80" r="5.20" fill="#000"/>
<circle cx="1777.70" cy="898.90" r="5.20" fill="#000"/>
<circle cx="1797.20" cy="908.70" r="5.20" fill="#000"/>
<circle cx="1784.20" cy="957.60" r="5.20" fill="#000"/>
<line x1="1788.10" y1="786.30" x2="1788.10" y2="934.70" stroke="#000" stroke-width="2.40"/>
<line x1="1783.30" y1="786.30" x2="1792.90" y2="786.30" stroke="#000" stroke-width="2.60"/>
<line x1="1783.30" y1="934.70" x2="1792.90" y2="934.70" stroke="#000" stroke-width="2.60"/>
<line x1="1775.90" y1="860.60" x2="1800.30" y2="860.60" stroke="#000" stroke-width="2.60"/>
<circle cx="1831.90" cy="666.40" r="5.20" fill="#000"/>
<circle cx="1852.10" cy="666.40" r="5.20" fill="#000"/>
<circle cx="1852.10" cy="678.50" r="5.20" fill="#000"/>
<circle cx="1835.60" cy="686.30" r="5.20" fill="#000"/>
<circle cx="1828.50" cy="695.50" r="5.20" fill="#000"/>
<circle cx="1852.10" cy="710.70" r="5.20" fill="#000"/>
<line x1="1842.90" y1="666.00" x2="1842.90" y2="702.20" stroke="#000" stroke-width="2.40"/>
<line x1="1838.10" y1="666.00" x2="1847.70" y2="666.00" stroke="#000" stroke-width="2.60"/>
<line x1="1838.10" y1="702.20" x2="1847.70" y2="702.20" stroke="#000" stroke-width="2.60"/>
<line x1="1830.70" y1="684.60" x2="1855.10" y2="684.60" stroke="#000" stroke-width="2.60"/>
<circle cx="1902.80" cy="818.90" r="5.20" fill="#000"/>
<circle cx="1882.60" cy="872.70" r="5.20" fill="#000"/>
<circle cx="1906.10" cy="887.30" r="5.20" fill="#000"/>
<circle cx="1890.10" cy="912.30" r="5.20" fill="#000"/>
<circle cx="1904.50" cy="926.30" r="5.20" fill="#000"/>
<circle cx="1893.40" cy="953.30" r="5.20" fill="#000"/>
<line x1="1897.30" y1="846.00" x2="1897.30" y2="944.20" stroke="#000" stroke-width="2.40"/>
<line x1="1892.50" y1="846.00" x2="1902.10" y2="846.00" stroke="#000" stroke-width="2.60"/>
<line x1="1892.50" y1="944.20" x2="1902.10" y2="944.20" stroke="#000" stroke-width="2.60"/>
<line x1="1885.10" y1="894.90" x2="1909.50" y2="894.90" stroke="#000" stroke-width="2.60"/>
<circle cx="1960.80" cy="882.90" r="5.20" fill="#000"/>
<circle cx="1935.70" cy="893.00" r="5.20" fill="#000"/>
<circle cx="1945.20" cy="898.00" r="5.20" fill="#000"/>
<circle cx="1939.00" cy="916.50" r="5.20" fill="#000"/>
<circle cx="1963.10" cy="924.00" r="5.20" fill="#000"/>
<circle cx="1945.20" cy="931.50" r="5.20" fill="#000"/>
<line x1="1952.70" y1="887.30" x2="1952.70" y2="927.90" stroke="#000" stroke-width="2.40"/>
<line x1="1947.90" y1="887.30" x2="1957.50" y2="887.30" stroke="#000" stroke-width="2.60"/>
<line x1="1947.90" y1="927.90" x2="1957.50" y2="927.90" stroke="#000" stroke-width="2.60"/>
<line x1="1940.50" y1="907.30" x2="1964.90" y2="907.30" stroke="#000" stroke-width="2.60"/>
<polyline points="1787.40,547.60 1787.40,539.70 1898.20,539.70 1898.20,547.60" fill="none" stroke="#000" stroke-width="2.40" stroke-linejoin="round" stroke-linejoin="miter"/>
<text transform="translate(1799.07 530.90) scale(1 1.026)" font-size="29.70" fill="#1a1a1a">p=0.34</text>
<polyline points="1843.60,594.30 1843.60,586.40 1954.00,586.40 1954.00,594.30" fill="none" stroke="#000" stroke-width="2.40" stroke-linejoin="round" stroke-linejoin="miter"/>
<text transform="translate(1822.75 578.00) scale(1 1.032)" font-size="30.00" fill="#1a1a1a">p=1.29E-09</text>
<polyline points="1786.30,645.00 1786.30,637.00 1846.60,637.00 1846.60,645.00" fill="none" stroke="#000" stroke-width="2.40" stroke-linejoin="round" stroke-linejoin="miter"/>
<text transform="translate(1757.41 628.40) scale(1 1.031)" font-size="29.11" fill="#1a1a1a">p=0.0001</text>
<text transform="translate(1619.00 1154.70) scale(1 1.029)" font-size="30.00" fill="#1a1a1a">LNCaP:</text>
<text transform="translate(1757.18 1188.63) rotate(-60) scale(1 0.994)" font-size="30.00" fill="#1a1a1a">Vector</text>
<text transform="translate(1819.45 1177.84) rotate(-60) scale(1 1.040)" font-size="30.00" fill="#1a1a1a">KLF5</text>
<text transform="translate(1868.18 1188.63) rotate(-60) scale(1 0.994)" font-size="30.00" fill="#1a1a1a">Vector</text>
<text transform="translate(1930.95 1177.84) rotate(-60) scale(1 1.040)" font-size="30.00" fill="#1a1a1a">KLF5</text>
<line x1="1744.80" y1="1204.90" x2="1845.20" y2="1204.90" stroke="#000" stroke-width="2.40"/>
<line x1="1880.30" y1="1204.90" x2="1973.90" y2="1204.90" stroke="#000" stroke-width="2.40"/>
<text transform="translate(1741.47 1247.60) scale(1 0.993)" font-size="30.00" fill="#1a1a1a">Vehicle</text>
<text transform="translate(1734.62 1280.80) scale(1 1.040)" font-size="30.00" fill="#1a1a1a">(DMSO)</text>
<text transform="translate(1885.60 1247.60) scale(1 1.026)" font-size="30.00" fill="#1a1a1a">10 nM</text>
<text transform="translate(1861.82 1280.80) scale(1 0.991)" font-size="30.00" fill="#1a1a1a">Mubritinib</text>
</svg></body></html>
